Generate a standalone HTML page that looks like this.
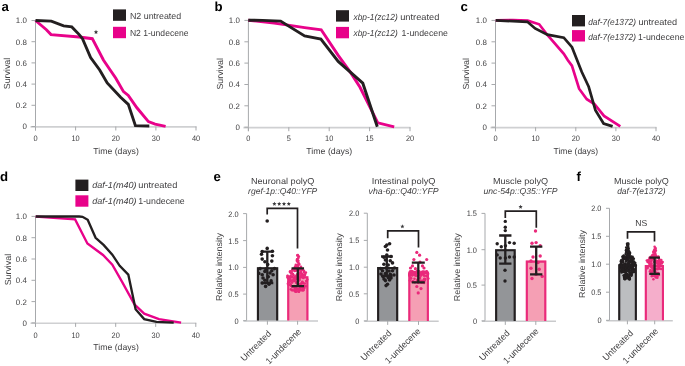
<!DOCTYPE html><html><head><meta charset="utf-8"><style>html,body{margin:0;padding:0;background:#fff;width:685px;height:366px;overflow:hidden;position:relative}svg{will-change:transform;text-rendering:geometricPrecision}</style></head><body>
<svg width="685" height="366" viewBox="0 0 685 366" style="position:absolute;left:0;top:0;font-family:'Liberation Sans',sans-serif">
<rect width="685" height="366" fill="#fff"/>
<text x="1.5" y="10.6" font-size="13.2" font-weight="bold" fill="#000">a</text>
<line x1="35.5" y1="20.5" x2="35.5" y2="130.5" stroke="#a7a9ac" stroke-width="1"/>
<line x1="30.5" y1="126.9" x2="196.5" y2="126.9" stroke="#cfd0d2" stroke-width="1.6"/>
<line x1="31.5" y1="126.5" x2="35.5" y2="126.5" stroke="#a7a9ac" stroke-width="1"/>
<text x="26.9" y="129.4" font-size="7.9" text-anchor="end" fill="#414042" textLength="4.40" lengthAdjust="spacingAndGlyphs">0</text>
<line x1="31.5" y1="105.3" x2="35.5" y2="105.3" stroke="#a7a9ac" stroke-width="1"/>
<text x="26.9" y="108.2" font-size="7.9" text-anchor="end" fill="#414042" textLength="11.01" lengthAdjust="spacingAndGlyphs">0.2</text>
<line x1="31.5" y1="84.1" x2="35.5" y2="84.1" stroke="#a7a9ac" stroke-width="1"/>
<text x="26.9" y="87.0" font-size="7.9" text-anchor="end" fill="#414042" textLength="11.01" lengthAdjust="spacingAndGlyphs">0.4</text>
<line x1="31.5" y1="62.9" x2="35.5" y2="62.9" stroke="#a7a9ac" stroke-width="1"/>
<text x="26.9" y="65.8" font-size="7.9" text-anchor="end" fill="#414042" textLength="11.01" lengthAdjust="spacingAndGlyphs">0.6</text>
<line x1="31.5" y1="41.7" x2="35.5" y2="41.7" stroke="#a7a9ac" stroke-width="1"/>
<text x="26.9" y="44.6" font-size="7.9" text-anchor="end" fill="#414042" textLength="11.01" lengthAdjust="spacingAndGlyphs">0.8</text>
<line x1="31.5" y1="20.5" x2="35.5" y2="20.5" stroke="#a7a9ac" stroke-width="1"/>
<text x="26.9" y="23.4" font-size="7.9" text-anchor="end" fill="#414042" textLength="11.01" lengthAdjust="spacingAndGlyphs">1.0</text>
<line x1="35.5" y1="126.5" x2="35.5" y2="130.5" stroke="#a7a9ac" stroke-width="1"/>
<text x="35.5" y="140.9" font-size="7.9" text-anchor="middle" fill="#414042" textLength="4.11" lengthAdjust="spacingAndGlyphs">0</text>
<line x1="75.6" y1="126.5" x2="75.6" y2="130.5" stroke="#a7a9ac" stroke-width="1"/>
<text x="75.6" y="140.9" font-size="7.9" text-anchor="middle" fill="#414042" textLength="8.23" lengthAdjust="spacingAndGlyphs">10</text>
<line x1="115.8" y1="126.5" x2="115.8" y2="130.5" stroke="#a7a9ac" stroke-width="1"/>
<text x="115.8" y="140.9" font-size="7.9" text-anchor="middle" fill="#414042" textLength="8.23" lengthAdjust="spacingAndGlyphs">20</text>
<line x1="155.9" y1="126.5" x2="155.9" y2="130.5" stroke="#a7a9ac" stroke-width="1"/>
<text x="155.9" y="140.9" font-size="7.9" text-anchor="middle" fill="#414042" textLength="8.23" lengthAdjust="spacingAndGlyphs">30</text>
<line x1="196.0" y1="126.5" x2="196.0" y2="130.5" stroke="#a7a9ac" stroke-width="1"/>
<text x="196.0" y="140.9" font-size="7.9" text-anchor="middle" fill="#414042" textLength="8.23" lengthAdjust="spacingAndGlyphs">40</text>
<text x="0" y="0" font-size="8.8" text-anchor="middle" fill="#414042" transform="translate(10.4,73.5) rotate(-90)" textLength="31.5" lengthAdjust="spacingAndGlyphs">Survival</text>
<text x="93.3" y="154.0" font-size="8.6" text-anchor="start" fill="#414042" textLength="45.5" lengthAdjust="spacingAndGlyphs">Time (days)</text>
<polyline points="35.5,20.5 46.4,29.7 51.0,34.6 79.2,37.0 92.3,38.7 103.4,60.0 109.5,69.0 115.8,78.2 123.5,91.6 128.3,95.4 136.9,107.8 148.4,121.6 155.1,124.1 165.6,126.4" fill="none" stroke="#e8028a" stroke-width="2.9" stroke-linejoin="miter" stroke-miterlimit="3"/>
<polyline points="35.5,20.5 51.3,21.1 63.6,25.9 71.8,26.9 79.2,34.6 82.5,38.7 90.6,57.5 99.7,70.0 107.2,83.0 120.6,97.3 128.3,104.4 135.4,125.6 149.3,126.0" fill="none" stroke="#231f20" stroke-width="2.9" stroke-linejoin="miter" stroke-miterlimit="3"/>
<polygon points="96.00,29.80 96.61,31.26 98.19,31.39 96.98,32.42 97.35,33.96 96.00,33.13 94.65,33.96 95.02,32.42 93.81,31.39 95.39,31.26" fill="#3a3a3c"/>
<rect x="113" y="9.4" width="13" height="11.4" fill="#231f20"/>
<text x="129.9" y="18.9" font-size="8.8" fill="#414042" textLength="51.3" lengthAdjust="spacingAndGlyphs">N2 untreated</text>
<rect x="113" y="26.8" width="13" height="11.4" fill="#e8028a"/>
<text x="129.9" y="36.3" font-size="8.8" fill="#414042" textLength="58.6" lengthAdjust="spacingAndGlyphs">N2 1-undecene</text>
<text x="214.5" y="10.6" font-size="13.2" font-weight="bold" fill="#000">b</text>
<line x1="248.4" y1="20.4" x2="248.4" y2="131.2" stroke="#a7a9ac" stroke-width="1"/>
<line x1="243.4" y1="127.60000000000001" x2="410.5" y2="127.60000000000001" stroke="#cfd0d2" stroke-width="1.6"/>
<line x1="244.4" y1="127.2" x2="248.4" y2="127.2" stroke="#a7a9ac" stroke-width="1"/>
<text x="239.8" y="130.1" font-size="7.9" text-anchor="end" fill="#414042" textLength="4.40" lengthAdjust="spacingAndGlyphs">0</text>
<line x1="244.4" y1="105.8" x2="248.4" y2="105.8" stroke="#a7a9ac" stroke-width="1"/>
<text x="239.8" y="108.7" font-size="7.9" text-anchor="end" fill="#414042" textLength="11.01" lengthAdjust="spacingAndGlyphs">0.2</text>
<line x1="244.4" y1="84.5" x2="248.4" y2="84.5" stroke="#a7a9ac" stroke-width="1"/>
<text x="239.8" y="87.4" font-size="7.9" text-anchor="end" fill="#414042" textLength="11.01" lengthAdjust="spacingAndGlyphs">0.4</text>
<line x1="244.4" y1="63.1" x2="248.4" y2="63.1" stroke="#a7a9ac" stroke-width="1"/>
<text x="239.8" y="66.0" font-size="7.9" text-anchor="end" fill="#414042" textLength="11.01" lengthAdjust="spacingAndGlyphs">0.6</text>
<line x1="244.4" y1="41.8" x2="248.4" y2="41.8" stroke="#a7a9ac" stroke-width="1"/>
<text x="239.8" y="44.7" font-size="7.9" text-anchor="end" fill="#414042" textLength="11.01" lengthAdjust="spacingAndGlyphs">0.8</text>
<line x1="244.4" y1="20.4" x2="248.4" y2="20.4" stroke="#a7a9ac" stroke-width="1"/>
<text x="239.8" y="23.3" font-size="7.9" text-anchor="end" fill="#414042" textLength="11.01" lengthAdjust="spacingAndGlyphs">1.0</text>
<line x1="248.4" y1="127.2" x2="248.4" y2="131.2" stroke="#a7a9ac" stroke-width="1"/>
<text x="248.4" y="141.2" font-size="7.9" text-anchor="middle" fill="#414042" textLength="4.11" lengthAdjust="spacingAndGlyphs">0</text>
<line x1="288.8" y1="127.2" x2="288.8" y2="131.2" stroke="#a7a9ac" stroke-width="1"/>
<text x="288.8" y="141.2" font-size="7.9" text-anchor="middle" fill="#414042" textLength="4.11" lengthAdjust="spacingAndGlyphs">5</text>
<line x1="329.2" y1="127.2" x2="329.2" y2="131.2" stroke="#a7a9ac" stroke-width="1"/>
<text x="329.2" y="141.2" font-size="7.9" text-anchor="middle" fill="#414042" textLength="8.23" lengthAdjust="spacingAndGlyphs">10</text>
<line x1="369.6" y1="127.2" x2="369.6" y2="131.2" stroke="#a7a9ac" stroke-width="1"/>
<text x="369.6" y="141.2" font-size="7.9" text-anchor="middle" fill="#414042" textLength="8.23" lengthAdjust="spacingAndGlyphs">15</text>
<line x1="410.0" y1="127.2" x2="410.0" y2="131.2" stroke="#a7a9ac" stroke-width="1"/>
<text x="410.0" y="141.2" font-size="7.9" text-anchor="middle" fill="#414042" textLength="8.23" lengthAdjust="spacingAndGlyphs">20</text>
<text x="0" y="0" font-size="8.8" text-anchor="middle" fill="#414042" transform="translate(223.4,73.8) rotate(-90)" textLength="31.5" lengthAdjust="spacingAndGlyphs">Survival</text>
<text x="306.3" y="154.1" font-size="8.6" text-anchor="start" fill="#414042" textLength="46" lengthAdjust="spacingAndGlyphs">Time (days)</text>
<polyline points="248.3,20.2 274.2,23.1 284.7,24.6 304.6,27.6 321.2,29.8 338.2,55.3 350.5,72.4 360.0,87.3 377.8,122.8 394.2,126.8" fill="none" stroke="#e8028a" stroke-width="2.9" stroke-linejoin="miter" stroke-miterlimit="3"/>
<polyline points="248.3,20.2 262.5,20.4 280.6,21.1 304.6,36.0 320.9,39.1 338.2,61.4 362.8,83.2 377.3,126.8" fill="none" stroke="#231f20" stroke-width="2.9" stroke-linejoin="miter" stroke-miterlimit="3"/>
<rect x="336" y="10.2" width="13" height="11.4" fill="#231f20"/>
<text x="353.5" y="19.7" font-size="8.8" fill="#414042" font-style="italic" textLength="44.2" lengthAdjust="spacingAndGlyphs">xbp-1(zc12)</text>
<text x="400.2" y="19.7" font-size="8.8" fill="#414042" textLength="39.2" lengthAdjust="spacingAndGlyphs">untreated</text>
<rect x="336" y="26.9" width="13" height="11.4" fill="#e8028a"/>
<text x="353.5" y="36.4" font-size="8.8" fill="#414042" font-style="italic" textLength="44.2" lengthAdjust="spacingAndGlyphs">xbp-1(zc12)</text>
<text x="401.6" y="36.4" font-size="8.8" fill="#414042" textLength="46.3" lengthAdjust="spacingAndGlyphs">1-undecene</text>
<text x="460.5" y="10.6" font-size="13.2" font-weight="bold" fill="#000">c</text>
<line x1="495.5" y1="20.4" x2="495.5" y2="131.2" stroke="#a7a9ac" stroke-width="1"/>
<line x1="490.5" y1="127.60000000000001" x2="656.5" y2="127.60000000000001" stroke="#cfd0d2" stroke-width="1.6"/>
<line x1="491.5" y1="127.2" x2="495.5" y2="127.2" stroke="#a7a9ac" stroke-width="1"/>
<text x="486.9" y="130.1" font-size="7.9" text-anchor="end" fill="#414042" textLength="4.40" lengthAdjust="spacingAndGlyphs">0</text>
<line x1="491.5" y1="105.8" x2="495.5" y2="105.8" stroke="#a7a9ac" stroke-width="1"/>
<text x="486.9" y="108.7" font-size="7.9" text-anchor="end" fill="#414042" textLength="11.01" lengthAdjust="spacingAndGlyphs">0.2</text>
<line x1="491.5" y1="84.5" x2="495.5" y2="84.5" stroke="#a7a9ac" stroke-width="1"/>
<text x="486.9" y="87.4" font-size="7.9" text-anchor="end" fill="#414042" textLength="11.01" lengthAdjust="spacingAndGlyphs">0.4</text>
<line x1="491.5" y1="63.1" x2="495.5" y2="63.1" stroke="#a7a9ac" stroke-width="1"/>
<text x="486.9" y="66.0" font-size="7.9" text-anchor="end" fill="#414042" textLength="11.01" lengthAdjust="spacingAndGlyphs">0.6</text>
<line x1="491.5" y1="41.8" x2="495.5" y2="41.8" stroke="#a7a9ac" stroke-width="1"/>
<text x="486.9" y="44.7" font-size="7.9" text-anchor="end" fill="#414042" textLength="11.01" lengthAdjust="spacingAndGlyphs">0.8</text>
<line x1="491.5" y1="20.4" x2="495.5" y2="20.4" stroke="#a7a9ac" stroke-width="1"/>
<text x="486.9" y="23.3" font-size="7.9" text-anchor="end" fill="#414042" textLength="11.01" lengthAdjust="spacingAndGlyphs">1.0</text>
<line x1="495.5" y1="127.2" x2="495.5" y2="131.2" stroke="#a7a9ac" stroke-width="1"/>
<text x="495.5" y="141.2" font-size="7.9" text-anchor="middle" fill="#414042" textLength="4.11" lengthAdjust="spacingAndGlyphs">0</text>
<line x1="535.6" y1="127.2" x2="535.6" y2="131.2" stroke="#a7a9ac" stroke-width="1"/>
<text x="535.6" y="141.2" font-size="7.9" text-anchor="middle" fill="#414042" textLength="8.23" lengthAdjust="spacingAndGlyphs">10</text>
<line x1="575.8" y1="127.2" x2="575.8" y2="131.2" stroke="#a7a9ac" stroke-width="1"/>
<text x="575.8" y="141.2" font-size="7.9" text-anchor="middle" fill="#414042" textLength="8.23" lengthAdjust="spacingAndGlyphs">20</text>
<line x1="615.9" y1="127.2" x2="615.9" y2="131.2" stroke="#a7a9ac" stroke-width="1"/>
<text x="615.9" y="141.2" font-size="7.9" text-anchor="middle" fill="#414042" textLength="8.23" lengthAdjust="spacingAndGlyphs">30</text>
<line x1="656.0" y1="127.2" x2="656.0" y2="131.2" stroke="#a7a9ac" stroke-width="1"/>
<text x="656.0" y="141.2" font-size="7.9" text-anchor="middle" fill="#414042" textLength="8.23" lengthAdjust="spacingAndGlyphs">40</text>
<text x="0" y="0" font-size="8.8" text-anchor="middle" fill="#414042" transform="translate(468.8,73.8) rotate(-90)" textLength="31.5" lengthAdjust="spacingAndGlyphs">Survival</text>
<text x="553.6" y="154.1" font-size="8.6" text-anchor="start" fill="#414042" textLength="44.6" lengthAdjust="spacingAndGlyphs">Time (days)</text>
<polyline points="495.7,20.4 513.0,20.0 527.7,20.6 539.2,24.3 547.4,35.0 563.8,53.8 567.7,60.0 571.9,65.7 579.1,88.7 586.8,99.2 594.4,104.0 604.0,115.9 620.3,126.4" fill="none" stroke="#e8028a" stroke-width="2.7" stroke-linejoin="miter" stroke-miterlimit="3"/>
<polyline points="495.7,20.4 527.4,21.8 535.1,28.4 547.4,34.6 563.8,37.7 572.0,47.2 581.8,72.0 588.7,86.8 595.4,110.1 603.6,123.5 612.6,126.4" fill="none" stroke="#231f20" stroke-width="2.7" stroke-linejoin="miter" stroke-miterlimit="3"/>
<rect x="572" y="15" width="13" height="11.4" fill="#231f20"/>
<text x="588.2" y="24.5" font-size="8.8" fill="#414042" font-style="italic" textLength="47.8" lengthAdjust="spacingAndGlyphs">daf-7(e1372)</text>
<text x="638.4" y="24.5" font-size="8.8" fill="#414042" textLength="38.7" lengthAdjust="spacingAndGlyphs">untreated</text>
<rect x="572" y="30.1" width="13" height="11.4" fill="#e8028a"/>
<text x="588.2" y="39.6" font-size="8.8" fill="#414042" font-style="italic" textLength="47.8" lengthAdjust="spacingAndGlyphs">daf-7(e1372)</text>
<text x="638.1" y="39.6" font-size="8.8" fill="#414042" textLength="46.3" lengthAdjust="spacingAndGlyphs">1-undecene</text>
<text x="0" y="181" font-size="13.2" font-weight="bold" fill="#000">d</text>
<line x1="35.5" y1="216.4" x2="35.5" y2="326.9" stroke="#a7a9ac" stroke-width="1"/>
<line x1="30.5" y1="323.29999999999995" x2="196.3" y2="323.29999999999995" stroke="#cfd0d2" stroke-width="1.6"/>
<line x1="31.5" y1="322.9" x2="35.5" y2="322.9" stroke="#a7a9ac" stroke-width="1"/>
<text x="26.9" y="325.8" font-size="7.9" text-anchor="end" fill="#414042" textLength="4.40" lengthAdjust="spacingAndGlyphs">0</text>
<line x1="31.5" y1="301.6" x2="35.5" y2="301.6" stroke="#a7a9ac" stroke-width="1"/>
<text x="26.9" y="304.5" font-size="7.9" text-anchor="end" fill="#414042" textLength="11.01" lengthAdjust="spacingAndGlyphs">0.2</text>
<line x1="31.5" y1="280.3" x2="35.5" y2="280.3" stroke="#a7a9ac" stroke-width="1"/>
<text x="26.9" y="283.2" font-size="7.9" text-anchor="end" fill="#414042" textLength="11.01" lengthAdjust="spacingAndGlyphs">0.4</text>
<line x1="31.5" y1="259.0" x2="35.5" y2="259.0" stroke="#a7a9ac" stroke-width="1"/>
<text x="26.9" y="261.9" font-size="7.9" text-anchor="end" fill="#414042" textLength="11.01" lengthAdjust="spacingAndGlyphs">0.6</text>
<line x1="31.5" y1="237.7" x2="35.5" y2="237.7" stroke="#a7a9ac" stroke-width="1"/>
<text x="26.9" y="240.6" font-size="7.9" text-anchor="end" fill="#414042" textLength="11.01" lengthAdjust="spacingAndGlyphs">0.8</text>
<line x1="31.5" y1="216.4" x2="35.5" y2="216.4" stroke="#a7a9ac" stroke-width="1"/>
<text x="26.9" y="219.3" font-size="7.9" text-anchor="end" fill="#414042" textLength="11.01" lengthAdjust="spacingAndGlyphs">1.0</text>
<line x1="35.5" y1="322.9" x2="35.5" y2="326.9" stroke="#a7a9ac" stroke-width="1"/>
<text x="35.5" y="337.9" font-size="7.9" text-anchor="middle" fill="#414042" textLength="4.11" lengthAdjust="spacingAndGlyphs">0</text>
<line x1="75.6" y1="322.9" x2="75.6" y2="326.9" stroke="#a7a9ac" stroke-width="1"/>
<text x="75.6" y="337.9" font-size="7.9" text-anchor="middle" fill="#414042" textLength="8.23" lengthAdjust="spacingAndGlyphs">10</text>
<line x1="115.7" y1="322.9" x2="115.7" y2="326.9" stroke="#a7a9ac" stroke-width="1"/>
<text x="115.7" y="337.9" font-size="7.9" text-anchor="middle" fill="#414042" textLength="8.23" lengthAdjust="spacingAndGlyphs">20</text>
<line x1="155.7" y1="322.9" x2="155.7" y2="326.9" stroke="#a7a9ac" stroke-width="1"/>
<text x="155.7" y="337.9" font-size="7.9" text-anchor="middle" fill="#414042" textLength="8.23" lengthAdjust="spacingAndGlyphs">30</text>
<line x1="195.8" y1="322.9" x2="195.8" y2="326.9" stroke="#a7a9ac" stroke-width="1"/>
<text x="195.8" y="337.9" font-size="7.9" text-anchor="middle" fill="#414042" textLength="8.23" lengthAdjust="spacingAndGlyphs">40</text>
<text x="0" y="0" font-size="8.8" text-anchor="middle" fill="#414042" transform="translate(10.6,269.6) rotate(-90)" textLength="31.5" lengthAdjust="spacingAndGlyphs">Survival</text>
<text x="93.3" y="349.79999999999995" font-size="8.6" text-anchor="start" fill="#414042" textLength="45.5" lengthAdjust="spacingAndGlyphs">Time (days)</text>
<polyline points="35.7,216.5 75.1,219.4 87.4,243.5 103.0,255.0 112.3,264.6 122.1,281.8 134.4,304.4 144.2,313.7 159.0,319.1 181.1,322.6" fill="none" stroke="#e8028a" stroke-width="2.35" stroke-linejoin="miter" stroke-miterlimit="3"/>
<polyline points="35.7,216.5 79.2,216.5 82.5,216.8 87.7,219.8 95.6,237.8 103.8,245.2 112.3,254.7 119.7,265.8 128.3,274.6 135.6,309.3 144.2,319.1 156.5,321.8 173.7,322.6" fill="none" stroke="#231f20" stroke-width="2.35" stroke-linejoin="miter" stroke-miterlimit="3"/>
<rect x="75.4" y="179.6" width="13" height="11.4" fill="#231f20"/>
<text x="92.3" y="188.4" font-size="8.8" fill="#414042" font-style="italic" textLength="44.2" lengthAdjust="spacingAndGlyphs">daf-1(m40)</text>
<text x="138.3" y="188.4" font-size="8.8" fill="#414042" textLength="39" lengthAdjust="spacingAndGlyphs">untreated</text>
<rect x="75.4" y="195.3" width="13" height="11.4" fill="#e8028a"/>
<text x="92.3" y="204.1" font-size="8.8" fill="#414042" font-style="italic" textLength="44.2" lengthAdjust="spacingAndGlyphs">daf-1(m40)</text>
<text x="138.3" y="204.1" font-size="8.8" fill="#414042" textLength="46.4" lengthAdjust="spacingAndGlyphs">1-undecene</text>
<text x="213.5" y="180.8" font-size="13.2" font-weight="bold" fill="#000">e</text>
<text x="282.7" y="183.9" font-size="8.6" text-anchor="middle" fill="#414042" textLength="63.6" lengthAdjust="spacingAndGlyphs">Neuronal polyQ</text>
<text x="282.7" y="193.6" font-size="8.6" font-style="italic" text-anchor="middle" fill="#414042" textLength="69.2" lengthAdjust="spacingAndGlyphs">rgef-1p::Q40::YFP</text>
<line x1="246.6" y1="213.6" x2="246.6" y2="320.7" stroke="#a7a9ac" stroke-width="1"/>
<line x1="243.6" y1="321.09999999999997" x2="318" y2="321.09999999999997" stroke="#c9cacc" stroke-width="1.5"/>
<line x1="243.1" y1="320.7" x2="246.6" y2="320.7" stroke="#a7a9ac" stroke-width="1"/>
<text x="238.6" y="323.6" font-size="7.9" text-anchor="end" fill="#414042" textLength="4.11" lengthAdjust="spacingAndGlyphs">0</text>
<line x1="243.1" y1="294.1" x2="246.6" y2="294.1" stroke="#a7a9ac" stroke-width="1"/>
<text x="238.6" y="297.0" font-size="7.9" text-anchor="end" fill="#414042" textLength="10.29" lengthAdjust="spacingAndGlyphs">0.5</text>
<line x1="243.1" y1="267.4" x2="246.6" y2="267.4" stroke="#a7a9ac" stroke-width="1"/>
<text x="238.6" y="270.3" font-size="7.9" text-anchor="end" fill="#414042" textLength="10.29" lengthAdjust="spacingAndGlyphs">1.0</text>
<line x1="243.1" y1="240.6" x2="246.6" y2="240.6" stroke="#a7a9ac" stroke-width="1"/>
<text x="238.6" y="243.5" font-size="7.9" text-anchor="end" fill="#414042" textLength="10.29" lengthAdjust="spacingAndGlyphs">1.5</text>
<line x1="243.1" y1="213.6" x2="246.6" y2="213.6" stroke="#a7a9ac" stroke-width="1"/>
<text x="238.6" y="216.5" font-size="7.9" text-anchor="end" fill="#414042" textLength="10.29" lengthAdjust="spacingAndGlyphs">2.0</text>
<line x1="267.4" y1="320.7" x2="267.4" y2="324.7" stroke="#a7a9ac" stroke-width="1"/>
<line x1="297.6" y1="320.7" x2="297.6" y2="324.7" stroke="#a7a9ac" stroke-width="1"/>
<text x="0" y="0" font-size="8.6" text-anchor="middle" fill="#414042" transform="translate(222.0,267) rotate(-90)" textLength="68" lengthAdjust="spacingAndGlyphs">Relative intensity</text>
<text x="0" y="0" font-size="9" text-anchor="end" fill="#414042" transform="translate(271.8,334.2) rotate(-45)" textLength="39.1" lengthAdjust="spacingAndGlyphs">Untreated</text>
<text x="0" y="0" font-size="9" text-anchor="end" fill="#414042" transform="translate(301.8,332.2) rotate(-45)" textLength="46.2" lengthAdjust="spacingAndGlyphs">1-undecene</text>
<rect x="256.90" y="267.20" width="21.30" height="53.30" fill="#939598"/>
<path d="M257.95,320.5V268.25H277.15V320.5" fill="none" stroke="#231f20" stroke-width="2.1"/>
<rect x="287.20" y="276.30" width="21.20" height="44.20" fill="#f59fb4"/>
<path d="M288.25,320.5V277.35H307.35V320.5" fill="none" stroke="#ea2a7b" stroke-width="2.1"/>
<circle cx="267.2" cy="221.0" r="1.8" fill="#231f20"/>
<circle cx="267.2" cy="248.4" r="1.8" fill="#231f20"/>
<circle cx="262.2" cy="251.6" r="1.8" fill="#231f20"/>
<circle cx="272.4" cy="251.3" r="1.8" fill="#231f20"/>
<circle cx="261.5" cy="254.3" r="1.8" fill="#231f20"/>
<circle cx="272.4" cy="255.7" r="1.8" fill="#231f20"/>
<circle cx="262.2" cy="259.1" r="1.8" fill="#231f20"/>
<circle cx="271.8" cy="261.1" r="1.8" fill="#231f20"/>
<circle cx="264.9" cy="261.8" r="1.8" fill="#231f20"/>
<circle cx="267.7" cy="264.5" r="1.8" fill="#231f20"/>
<circle cx="260.1" cy="268.6" r="1.8" fill="#231f20"/>
<circle cx="264.9" cy="271.4" r="1.8" fill="#231f20"/>
<circle cx="271.8" cy="270.7" r="1.8" fill="#231f20"/>
<circle cx="262.2" cy="274.8" r="1.8" fill="#231f20"/>
<circle cx="273.1" cy="274.8" r="1.8" fill="#231f20"/>
<circle cx="268.3" cy="276.8" r="1.8" fill="#231f20"/>
<circle cx="264.9" cy="280.3" r="1.8" fill="#231f20"/>
<circle cx="271.1" cy="280.9" r="1.8" fill="#231f20"/>
<circle cx="262.2" cy="283.0" r="1.8" fill="#231f20"/>
<circle cx="265.6" cy="286.4" r="1.8" fill="#231f20"/>
<circle cx="269.0" cy="284.3" r="1.8" fill="#231f20"/>
<circle cx="258.8" cy="273.4" r="1.8" fill="#231f20"/>
<circle cx="274.5" cy="268.6" r="1.8" fill="#231f20"/>
<circle cx="266.0" cy="269.0" r="1.8" fill="#231f20"/>
<circle cx="270.0" cy="273.0" r="1.8" fill="#231f20"/>
<circle cx="263.0" cy="278.0" r="1.8" fill="#231f20"/>
<circle cx="297.8" cy="255.2" r="1.35" fill="#ea2a7b"/>
<circle cx="298.8" cy="256.6" r="1.35" fill="#ea2a7b"/>
<circle cx="298.3" cy="258.0" r="1.35" fill="#ea2a7b"/>
<circle cx="297.1" cy="259.4" r="1.35" fill="#ea2a7b"/>
<circle cx="296.9" cy="260.8" r="1.35" fill="#ea2a7b"/>
<circle cx="298.0" cy="262.2" r="1.35" fill="#ea2a7b"/>
<circle cx="298.8" cy="263.6" r="1.35" fill="#ea2a7b"/>
<circle cx="298.1" cy="265.0" r="1.35" fill="#ea2a7b"/>
<circle cx="297.0" cy="266.4" r="1.35" fill="#ea2a7b"/>
<circle cx="303.3" cy="283.5" r="1.3" fill="#ea2a7b"/>
<circle cx="302.8" cy="290.4" r="1.3" fill="#ea2a7b"/>
<circle cx="299.3" cy="264.4" r="1.3" fill="#ea2a7b"/>
<circle cx="290.2" cy="285.0" r="1.3" fill="#ea2a7b"/>
<circle cx="298.5" cy="278.8" r="1.3" fill="#ea2a7b"/>
<circle cx="291.8" cy="276.5" r="1.3" fill="#ea2a7b"/>
<circle cx="302.9" cy="276.0" r="1.3" fill="#ea2a7b"/>
<circle cx="292.4" cy="270.6" r="1.3" fill="#ea2a7b"/>
<circle cx="287.5" cy="277.6" r="1.3" fill="#ea2a7b"/>
<circle cx="292.7" cy="287.3" r="1.3" fill="#ea2a7b"/>
<circle cx="295.3" cy="291.2" r="1.3" fill="#ea2a7b"/>
<circle cx="300.1" cy="289.2" r="1.3" fill="#ea2a7b"/>
<circle cx="301.4" cy="276.1" r="1.3" fill="#ea2a7b"/>
<circle cx="295.4" cy="291.4" r="1.3" fill="#ea2a7b"/>
<circle cx="291.6" cy="272.6" r="1.3" fill="#ea2a7b"/>
<circle cx="298.5" cy="267.7" r="1.3" fill="#ea2a7b"/>
<circle cx="297.3" cy="260.4" r="1.3" fill="#ea2a7b"/>
<circle cx="297.2" cy="275.6" r="1.3" fill="#ea2a7b"/>
<circle cx="301.4" cy="274.0" r="1.3" fill="#ea2a7b"/>
<circle cx="289.9" cy="271.7" r="1.3" fill="#ea2a7b"/>
<circle cx="288.3" cy="284.5" r="1.3" fill="#ea2a7b"/>
<circle cx="299.2" cy="279.9" r="1.3" fill="#ea2a7b"/>
<circle cx="297.3" cy="255.4" r="1.3" fill="#ea2a7b"/>
<circle cx="302.0" cy="287.2" r="1.3" fill="#ea2a7b"/>
<circle cx="296.0" cy="291.7" r="1.3" fill="#ea2a7b"/>
<circle cx="302.7" cy="274.2" r="1.3" fill="#ea2a7b"/>
<circle cx="301.7" cy="270.3" r="1.3" fill="#ea2a7b"/>
<circle cx="305.9" cy="286.2" r="1.3" fill="#ea2a7b"/>
<circle cx="298.7" cy="268.0" r="1.3" fill="#ea2a7b"/>
<circle cx="304.4" cy="288.0" r="1.3" fill="#ea2a7b"/>
<circle cx="293.9" cy="279.4" r="1.3" fill="#ea2a7b"/>
<circle cx="295.2" cy="266.5" r="1.3" fill="#ea2a7b"/>
<circle cx="291.2" cy="286.0" r="1.3" fill="#ea2a7b"/>
<circle cx="297.8" cy="266.0" r="1.3" fill="#ea2a7b"/>
<circle cx="299.5" cy="278.7" r="1.3" fill="#ea2a7b"/>
<circle cx="296.4" cy="288.7" r="1.3" fill="#ea2a7b"/>
<circle cx="290.3" cy="271.3" r="1.3" fill="#ea2a7b"/>
<circle cx="290.5" cy="284.4" r="1.3" fill="#ea2a7b"/>
<circle cx="300.1" cy="285.5" r="1.3" fill="#ea2a7b"/>
<circle cx="296.3" cy="277.4" r="1.3" fill="#ea2a7b"/>
<circle cx="294.6" cy="270.9" r="1.3" fill="#ea2a7b"/>
<circle cx="304.3" cy="286.0" r="1.3" fill="#ea2a7b"/>
<circle cx="297.4" cy="288.7" r="1.3" fill="#ea2a7b"/>
<circle cx="293.5" cy="281.0" r="1.3" fill="#ea2a7b"/>
<circle cx="295.1" cy="277.8" r="1.3" fill="#ea2a7b"/>
<circle cx="298.9" cy="291.8" r="1.3" fill="#ea2a7b"/>
<circle cx="289.4" cy="279.6" r="1.3" fill="#ea2a7b"/>
<circle cx="304.8" cy="275.4" r="1.3" fill="#ea2a7b"/>
<circle cx="303.0" cy="275.4" r="1.3" fill="#ea2a7b"/>
<circle cx="302.7" cy="282.8" r="1.3" fill="#ea2a7b"/>
<circle cx="293.4" cy="275.0" r="1.3" fill="#ea2a7b"/>
<circle cx="301.3" cy="283.8" r="1.3" fill="#ea2a7b"/>
<circle cx="300.6" cy="276.1" r="1.3" fill="#ea2a7b"/>
<circle cx="298.6" cy="276.5" r="1.3" fill="#ea2a7b"/>
<circle cx="296.9" cy="274.9" r="1.3" fill="#ea2a7b"/>
<circle cx="301.5" cy="289.9" r="1.3" fill="#ea2a7b"/>
<circle cx="302.1" cy="274.8" r="1.3" fill="#ea2a7b"/>
<circle cx="303.0" cy="288.1" r="1.3" fill="#ea2a7b"/>
<circle cx="303.7" cy="290.1" r="1.3" fill="#ea2a7b"/>
<circle cx="298.0" cy="289.1" r="1.3" fill="#ea2a7b"/>
<circle cx="304.0" cy="270.9" r="1.3" fill="#ea2a7b"/>
<circle cx="301.9" cy="283.0" r="1.3" fill="#ea2a7b"/>
<circle cx="303.3" cy="278.0" r="1.3" fill="#ea2a7b"/>
<circle cx="296.1" cy="282.8" r="1.3" fill="#ea2a7b"/>
<circle cx="300.2" cy="283.8" r="1.3" fill="#ea2a7b"/>
<circle cx="290.7" cy="276.7" r="1.3" fill="#ea2a7b"/>
<circle cx="292.1" cy="282.6" r="1.3" fill="#ea2a7b"/>
<circle cx="288.7" cy="282.5" r="1.3" fill="#ea2a7b"/>
<circle cx="288.6" cy="278.6" r="1.3" fill="#ea2a7b"/>
<circle cx="294.6" cy="267.8" r="1.3" fill="#ea2a7b"/>
<circle cx="297.4" cy="266.2" r="1.3" fill="#ea2a7b"/>
<circle cx="299.3" cy="274.6" r="1.3" fill="#ea2a7b"/>
<circle cx="287.6" cy="276.0" r="1.3" fill="#ea2a7b"/>
<circle cx="295.8" cy="279.1" r="1.3" fill="#ea2a7b"/>
<circle cx="295.8" cy="270.8" r="1.3" fill="#ea2a7b"/>
<circle cx="295.8" cy="264.8" r="1.3" fill="#ea2a7b"/>
<circle cx="299.2" cy="279.7" r="1.3" fill="#ea2a7b"/>
<circle cx="296.7" cy="290.9" r="1.3" fill="#ea2a7b"/>
<circle cx="295.9" cy="289.9" r="1.3" fill="#ea2a7b"/>
<circle cx="298.4" cy="269.5" r="1.3" fill="#ea2a7b"/>
<circle cx="298.7" cy="291.8" r="1.3" fill="#ea2a7b"/>
<circle cx="287.6" cy="275.9" r="1.3" fill="#ea2a7b"/>
<circle cx="299.0" cy="269.3" r="1.3" fill="#ea2a7b"/>
<circle cx="302.5" cy="269.7" r="1.3" fill="#ea2a7b"/>
<circle cx="292.6" cy="273.8" r="1.3" fill="#ea2a7b"/>
<circle cx="295.2" cy="276.3" r="1.3" fill="#ea2a7b"/>
<circle cx="298.6" cy="291.5" r="1.3" fill="#ea2a7b"/>
<circle cx="297.5" cy="276.3" r="1.3" fill="#ea2a7b"/>
<circle cx="307.3" cy="279.5" r="1.3" fill="#ea2a7b"/>
<circle cx="297.1" cy="279.1" r="1.3" fill="#ea2a7b"/>
<circle cx="296.9" cy="269.6" r="1.3" fill="#ea2a7b"/>
<circle cx="304.0" cy="275.4" r="1.3" fill="#ea2a7b"/>
<circle cx="297.3" cy="259.3" r="1.3" fill="#ea2a7b"/>
<circle cx="294.6" cy="290.7" r="1.3" fill="#ea2a7b"/>
<circle cx="305.9" cy="272.5" r="1.3" fill="#ea2a7b"/>
<circle cx="297.1" cy="274.6" r="1.3" fill="#ea2a7b"/>
<circle cx="302.4" cy="282.2" r="1.3" fill="#ea2a7b"/>
<circle cx="294.8" cy="270.4" r="1.3" fill="#ea2a7b"/>
<circle cx="293.6" cy="279.6" r="1.3" fill="#ea2a7b"/>
<circle cx="294.9" cy="280.9" r="1.3" fill="#ea2a7b"/>
<circle cx="288.5" cy="282.1" r="1.3" fill="#ea2a7b"/>
<circle cx="305.2" cy="273.9" r="1.3" fill="#ea2a7b"/>
<circle cx="290.8" cy="289.3" r="1.3" fill="#ea2a7b"/>
<circle cx="299.1" cy="280.5" r="1.3" fill="#ea2a7b"/>
<circle cx="297.2" cy="282.5" r="1.3" fill="#ea2a7b"/>
<circle cx="295.9" cy="288.3" r="1.3" fill="#ea2a7b"/>
<circle cx="294.1" cy="287.2" r="1.3" fill="#ea2a7b"/>
<circle cx="303.8" cy="286.4" r="1.3" fill="#ea2a7b"/>
<circle cx="293.4" cy="280.6" r="1.3" fill="#ea2a7b"/>
<circle cx="290.8" cy="285.1" r="1.3" fill="#ea2a7b"/>
<circle cx="297.6" cy="281.7" r="1.3" fill="#ea2a7b"/>
<circle cx="299.1" cy="272.5" r="1.3" fill="#ea2a7b"/>
<circle cx="292.6" cy="286.4" r="1.3" fill="#ea2a7b"/>
<circle cx="299.5" cy="290.8" r="1.3" fill="#ea2a7b"/>
<circle cx="298.4" cy="260.8" r="1.3" fill="#ea2a7b"/>
<circle cx="291.9" cy="290.2" r="1.3" fill="#ea2a7b"/>
<circle cx="300.1" cy="287.3" r="1.3" fill="#ea2a7b"/>
<circle cx="293.0" cy="290.3" r="1.3" fill="#ea2a7b"/>
<circle cx="290.6" cy="276.0" r="1.3" fill="#ea2a7b"/>
<circle cx="290.9" cy="280.4" r="1.3" fill="#ea2a7b"/>
<circle cx="289.6" cy="276.8" r="1.3" fill="#ea2a7b"/>
<circle cx="290.2" cy="272.1" r="1.3" fill="#ea2a7b"/>
<circle cx="304.9" cy="283.5" r="1.3" fill="#ea2a7b"/>
<circle cx="295.7" cy="268.5" r="1.3" fill="#ea2a7b"/>
<circle cx="306.2" cy="281.1" r="1.3" fill="#ea2a7b"/>
<circle cx="300.9" cy="272.1" r="1.3" fill="#ea2a7b"/>
<circle cx="297.7" cy="269.7" r="1.3" fill="#ea2a7b"/>
<circle cx="299.3" cy="289.3" r="1.3" fill="#ea2a7b"/>
<circle cx="293.0" cy="274.3" r="1.3" fill="#ea2a7b"/>
<circle cx="290.4" cy="281.4" r="1.3" fill="#ea2a7b"/>
<circle cx="301.8" cy="273.5" r="1.3" fill="#ea2a7b"/>
<circle cx="299.7" cy="270.1" r="1.3" fill="#ea2a7b"/>
<circle cx="292.3" cy="269.9" r="1.3" fill="#ea2a7b"/>
<circle cx="294.4" cy="269.4" r="1.3" fill="#ea2a7b"/>
<circle cx="295.0" cy="288.9" r="1.3" fill="#ea2a7b"/>
<circle cx="302.2" cy="276.7" r="1.3" fill="#ea2a7b"/>
<circle cx="301.0" cy="266.9" r="1.3" fill="#ea2a7b"/>
<circle cx="289.9" cy="278.5" r="1.3" fill="#ea2a7b"/>
<circle cx="301.8" cy="290.0" r="1.3" fill="#ea2a7b"/>
<circle cx="295.8" cy="269.6" r="1.3" fill="#ea2a7b"/>
<circle cx="299.6" cy="273.3" r="1.3" fill="#ea2a7b"/>
<circle cx="291.1" cy="273.6" r="1.3" fill="#ea2a7b"/>
<circle cx="301.6" cy="289.9" r="1.3" fill="#ea2a7b"/>
<circle cx="297.9" cy="284.6" r="1.3" fill="#ea2a7b"/>
<circle cx="302.3" cy="281.9" r="1.3" fill="#ea2a7b"/>
<circle cx="288.1" cy="277.3" r="1.3" fill="#ea2a7b"/>
<circle cx="304.0" cy="272.0" r="1.3" fill="#ea2a7b"/>
<circle cx="287.9" cy="283.7" r="1.3" fill="#ea2a7b"/>
<circle cx="299.9" cy="284.9" r="1.3" fill="#ea2a7b"/>
<circle cx="289.7" cy="280.9" r="1.3" fill="#ea2a7b"/>
<path d="M267.3,251.6V283M261.3,251.6H273.3M261.3,283H273.3" stroke="#231f20" stroke-width="2.3" fill="none"/>
<path d="M297.8,268.4V286.2M291.55,268.4H304.05M291.55,286.2H304.05" stroke="#231f20" stroke-width="2.3" fill="none"/>
<polyline points="267.2,214.4 267.2,208.3 297.5,208.3 297.5,248.5" fill="none" stroke="#231f20" stroke-width="1.7"/>
<polygon points="274.40,201.70 274.98,203.10 276.49,203.22 275.34,204.21 275.69,205.68 274.40,204.89 273.11,205.68 273.46,204.21 272.31,203.22 273.82,203.10" fill="#3a3a3c"/>
<polygon points="279.20,201.70 279.78,203.10 281.29,203.22 280.14,204.21 280.49,205.68 279.20,204.89 277.91,205.68 278.26,204.21 277.11,203.22 278.62,203.10" fill="#3a3a3c"/>
<polygon points="284.00,201.70 284.58,203.10 286.09,203.22 284.94,204.21 285.29,205.68 284.00,204.89 282.71,205.68 283.06,204.21 281.91,203.22 283.42,203.10" fill="#3a3a3c"/>
<polygon points="288.80,201.70 289.38,203.10 290.89,203.22 289.74,204.21 290.09,205.68 288.80,204.89 287.51,205.68 287.86,204.21 286.71,203.22 288.22,203.10" fill="#3a3a3c"/>
<text x="403.6" y="183.9" font-size="8.6" text-anchor="middle" fill="#414042" textLength="63.9" lengthAdjust="spacingAndGlyphs">Intestinal polyQ</text>
<text x="403.6" y="193.6" font-size="8.6" font-style="italic" text-anchor="middle" fill="#414042" textLength="70.1" lengthAdjust="spacingAndGlyphs">vha-6p::Q40::YFP</text>
<line x1="367.3" y1="213.2" x2="367.3" y2="320.9" stroke="#a7a9ac" stroke-width="1"/>
<line x1="364.3" y1="321.29999999999995" x2="438.7" y2="321.29999999999995" stroke="#c9cacc" stroke-width="1.5"/>
<line x1="363.8" y1="320.9" x2="367.3" y2="320.9" stroke="#a7a9ac" stroke-width="1"/>
<text x="359.3" y="323.8" font-size="7.9" text-anchor="end" fill="#414042" textLength="4.11" lengthAdjust="spacingAndGlyphs">0</text>
<line x1="363.8" y1="293.8" x2="367.3" y2="293.8" stroke="#a7a9ac" stroke-width="1"/>
<text x="359.3" y="296.7" font-size="7.9" text-anchor="end" fill="#414042" textLength="10.29" lengthAdjust="spacingAndGlyphs">0.5</text>
<line x1="363.8" y1="267.2" x2="367.3" y2="267.2" stroke="#a7a9ac" stroke-width="1"/>
<text x="359.3" y="270.1" font-size="7.9" text-anchor="end" fill="#414042" textLength="10.29" lengthAdjust="spacingAndGlyphs">1.0</text>
<line x1="363.8" y1="240.4" x2="367.3" y2="240.4" stroke="#a7a9ac" stroke-width="1"/>
<text x="359.3" y="243.3" font-size="7.9" text-anchor="end" fill="#414042" textLength="10.29" lengthAdjust="spacingAndGlyphs">1.5</text>
<line x1="363.8" y1="213.2" x2="367.3" y2="213.2" stroke="#a7a9ac" stroke-width="1"/>
<text x="359.3" y="216.1" font-size="7.9" text-anchor="end" fill="#414042" textLength="10.29" lengthAdjust="spacingAndGlyphs">2.0</text>
<line x1="387.7" y1="320.9" x2="387.7" y2="324.9" stroke="#a7a9ac" stroke-width="1"/>
<line x1="418.5" y1="320.9" x2="418.5" y2="324.9" stroke="#a7a9ac" stroke-width="1"/>
<text x="0" y="0" font-size="8.6" text-anchor="middle" fill="#414042" transform="translate(342.0,267.2) rotate(-90)" textLength="68" lengthAdjust="spacingAndGlyphs">Relative intensity</text>
<text x="0" y="0" font-size="9" text-anchor="end" fill="#414042" transform="translate(391.9,333.7) rotate(-45)" textLength="39.1" lengthAdjust="spacingAndGlyphs">Untreated</text>
<text x="0" y="0" font-size="9" text-anchor="end" fill="#414042" transform="translate(421.1,331.7) rotate(-45)" textLength="46.2" lengthAdjust="spacingAndGlyphs">1-undecene</text>
<rect x="377.10" y="267.00" width="21.10" height="53.90" fill="#939598"/>
<path d="M378.15,320.9V268.05H397.15V320.9" fill="none" stroke="#231f20" stroke-width="2.1"/>
<rect x="408.30" y="271.80" width="20.60" height="49.10" fill="#f59fb4"/>
<path d="M409.35,320.9V272.85H427.85V320.9" fill="none" stroke="#ea2a7b" stroke-width="2.1"/>
<circle cx="389.6" cy="243.7" r="1.8" fill="#231f20"/>
<circle cx="386.8" cy="245.1" r="1.8" fill="#231f20"/>
<circle cx="385.4" cy="246.5" r="1.8" fill="#231f20"/>
<circle cx="387.5" cy="250.0" r="1.8" fill="#231f20"/>
<circle cx="386.8" cy="255.0" r="1.8" fill="#231f20"/>
<circle cx="383.9" cy="257.2" r="1.8" fill="#231f20"/>
<circle cx="391.0" cy="256.5" r="1.8" fill="#231f20"/>
<circle cx="385.4" cy="260.0" r="1.8" fill="#231f20"/>
<circle cx="390.3" cy="260.7" r="1.8" fill="#231f20"/>
<circle cx="392.5" cy="262.9" r="1.8" fill="#231f20"/>
<circle cx="383.9" cy="264.3" r="1.8" fill="#231f20"/>
<circle cx="388.2" cy="265.0" r="1.8" fill="#231f20"/>
<circle cx="382.5" cy="270.7" r="1.8" fill="#231f20"/>
<circle cx="392.5" cy="270.7" r="1.8" fill="#231f20"/>
<circle cx="385.4" cy="273.5" r="1.8" fill="#231f20"/>
<circle cx="390.3" cy="274.2" r="1.8" fill="#231f20"/>
<circle cx="383.2" cy="276.4" r="1.8" fill="#231f20"/>
<circle cx="388.2" cy="277.8" r="1.8" fill="#231f20"/>
<circle cx="385.4" cy="280.6" r="1.8" fill="#231f20"/>
<circle cx="389.6" cy="279.9" r="1.8" fill="#231f20"/>
<circle cx="387.5" cy="284.2" r="1.8" fill="#231f20"/>
<circle cx="386.1" cy="285.6" r="1.8" fill="#231f20"/>
<circle cx="380.6" cy="268.5" r="1.8" fill="#231f20"/>
<circle cx="394.5" cy="268.0" r="1.8" fill="#231f20"/>
<circle cx="386.0" cy="268.0" r="1.8" fill="#231f20"/>
<circle cx="389.0" cy="271.0" r="1.8" fill="#231f20"/>
<circle cx="381.0" cy="274.0" r="1.8" fill="#231f20"/>
<circle cx="394.0" cy="275.0" r="1.8" fill="#231f20"/>
<circle cx="384.0" cy="279.0" r="1.8" fill="#231f20"/>
<circle cx="391.0" cy="278.0" r="1.8" fill="#231f20"/>
<circle cx="416.8" cy="252.4" r="1.6" fill="#ea2a7b"/>
<circle cx="419.6" cy="255.2" r="1.6" fill="#ea2a7b"/>
<circle cx="413.9" cy="259.5" r="1.6" fill="#ea2a7b"/>
<circle cx="426.7" cy="259.5" r="1.6" fill="#ea2a7b"/>
<circle cx="412.5" cy="265.9" r="1.6" fill="#ea2a7b"/>
<circle cx="422.5" cy="265.9" r="1.6" fill="#ea2a7b"/>
<circle cx="415.4" cy="268.7" r="1.6" fill="#ea2a7b"/>
<circle cx="426.7" cy="271.6" r="1.6" fill="#ea2a7b"/>
<circle cx="411.8" cy="272.3" r="1.6" fill="#ea2a7b"/>
<circle cx="416.8" cy="286.5" r="1.6" fill="#ea2a7b"/>
<circle cx="421.0" cy="288.6" r="1.6" fill="#ea2a7b"/>
<circle cx="418.2" cy="292.9" r="1.6" fill="#ea2a7b"/>
<circle cx="412.5" cy="281.5" r="1.6" fill="#ea2a7b"/>
<circle cx="423.9" cy="281.5" r="1.6" fill="#ea2a7b"/>
<circle cx="420.0" cy="262.0" r="1.6" fill="#ea2a7b"/>
<circle cx="424.0" cy="268.0" r="1.6" fill="#ea2a7b"/>
<circle cx="410.5" cy="268.0" r="1.6" fill="#ea2a7b"/>
<circle cx="421.6" cy="272.4" r="1.3" fill="#ea2a7b"/>
<circle cx="416.0" cy="275.8" r="1.3" fill="#ea2a7b"/>
<circle cx="409.5" cy="275.6" r="1.3" fill="#ea2a7b"/>
<circle cx="410.6" cy="271.6" r="1.3" fill="#ea2a7b"/>
<circle cx="411.2" cy="278.4" r="1.3" fill="#ea2a7b"/>
<circle cx="427.4" cy="276.6" r="1.3" fill="#ea2a7b"/>
<circle cx="427.9" cy="274.6" r="1.3" fill="#ea2a7b"/>
<circle cx="414.5" cy="278.7" r="1.3" fill="#ea2a7b"/>
<circle cx="414.8" cy="272.1" r="1.3" fill="#ea2a7b"/>
<circle cx="420.1" cy="280.5" r="1.3" fill="#ea2a7b"/>
<circle cx="419.5" cy="274.4" r="1.3" fill="#ea2a7b"/>
<circle cx="412.8" cy="271.5" r="1.3" fill="#ea2a7b"/>
<circle cx="415.0" cy="274.8" r="1.3" fill="#ea2a7b"/>
<circle cx="414.7" cy="275.1" r="1.3" fill="#ea2a7b"/>
<circle cx="414.9" cy="282.1" r="1.3" fill="#ea2a7b"/>
<circle cx="426.0" cy="275.7" r="1.3" fill="#ea2a7b"/>
<circle cx="428.0" cy="273.6" r="1.3" fill="#ea2a7b"/>
<circle cx="423.6" cy="274.8" r="1.3" fill="#ea2a7b"/>
<circle cx="409.6" cy="275.4" r="1.3" fill="#ea2a7b"/>
<circle cx="420.0" cy="277.9" r="1.3" fill="#ea2a7b"/>
<circle cx="422.0" cy="280.9" r="1.3" fill="#ea2a7b"/>
<circle cx="417.7" cy="276.2" r="1.3" fill="#ea2a7b"/>
<circle cx="418.3" cy="282.8" r="1.3" fill="#ea2a7b"/>
<circle cx="422.5" cy="271.5" r="1.3" fill="#ea2a7b"/>
<circle cx="424.9" cy="279.9" r="1.3" fill="#ea2a7b"/>
<circle cx="421.9" cy="274.5" r="1.3" fill="#ea2a7b"/>
<circle cx="412.1" cy="275.2" r="1.3" fill="#ea2a7b"/>
<circle cx="423.9" cy="271.5" r="1.3" fill="#ea2a7b"/>
<circle cx="416.5" cy="273.2" r="1.3" fill="#ea2a7b"/>
<circle cx="417.6" cy="280.2" r="1.3" fill="#ea2a7b"/>
<circle cx="424.9" cy="279.0" r="1.3" fill="#ea2a7b"/>
<circle cx="417.1" cy="280.8" r="1.3" fill="#ea2a7b"/>
<circle cx="427.6" cy="279.0" r="1.3" fill="#ea2a7b"/>
<circle cx="413.3" cy="272.6" r="1.3" fill="#ea2a7b"/>
<circle cx="420.3" cy="275.4" r="1.3" fill="#ea2a7b"/>
<circle cx="417.0" cy="271.0" r="1.3" fill="#ea2a7b"/>
<circle cx="427.5" cy="276.1" r="1.3" fill="#ea2a7b"/>
<circle cx="420.9" cy="275.6" r="1.3" fill="#ea2a7b"/>
<circle cx="426.4" cy="271.5" r="1.3" fill="#ea2a7b"/>
<circle cx="424.4" cy="278.9" r="1.3" fill="#ea2a7b"/>
<circle cx="410.8" cy="274.6" r="1.3" fill="#ea2a7b"/>
<circle cx="410.1" cy="271.6" r="1.3" fill="#ea2a7b"/>
<circle cx="415.5" cy="272.5" r="1.3" fill="#ea2a7b"/>
<circle cx="411.8" cy="271.0" r="1.3" fill="#ea2a7b"/>
<circle cx="409.3" cy="274.3" r="1.3" fill="#ea2a7b"/>
<circle cx="413.4" cy="281.8" r="1.3" fill="#ea2a7b"/>
<circle cx="415.9" cy="274.1" r="1.3" fill="#ea2a7b"/>
<circle cx="428.3" cy="278.6" r="1.3" fill="#ea2a7b"/>
<circle cx="410.5" cy="275.4" r="1.3" fill="#ea2a7b"/>
<circle cx="414.0" cy="274.1" r="1.3" fill="#ea2a7b"/>
<circle cx="409.8" cy="280.5" r="1.3" fill="#ea2a7b"/>
<circle cx="413.1" cy="281.6" r="1.3" fill="#ea2a7b"/>
<circle cx="419.2" cy="271.2" r="1.3" fill="#ea2a7b"/>
<circle cx="421.2" cy="282.6" r="1.3" fill="#ea2a7b"/>
<circle cx="412.1" cy="274.3" r="1.3" fill="#ea2a7b"/>
<circle cx="424.1" cy="275.8" r="1.3" fill="#ea2a7b"/>
<circle cx="424.7" cy="273.0" r="1.3" fill="#ea2a7b"/>
<circle cx="422.6" cy="282.6" r="1.3" fill="#ea2a7b"/>
<circle cx="414.8" cy="282.2" r="1.3" fill="#ea2a7b"/>
<circle cx="409.4" cy="274.2" r="1.3" fill="#ea2a7b"/>
<circle cx="413.9" cy="273.5" r="1.3" fill="#ea2a7b"/>
<circle cx="417.6" cy="279.6" r="1.3" fill="#ea2a7b"/>
<circle cx="424.1" cy="283.0" r="1.3" fill="#ea2a7b"/>
<circle cx="413.2" cy="273.0" r="1.3" fill="#ea2a7b"/>
<circle cx="421.0" cy="272.8" r="1.3" fill="#ea2a7b"/>
<circle cx="418.3" cy="282.5" r="1.3" fill="#ea2a7b"/>
<circle cx="410.5" cy="278.2" r="1.3" fill="#ea2a7b"/>
<circle cx="424.1" cy="279.2" r="1.3" fill="#ea2a7b"/>
<circle cx="412.3" cy="275.3" r="1.3" fill="#ea2a7b"/>
<circle cx="423.7" cy="281.0" r="1.3" fill="#ea2a7b"/>
<path d="M386.8,256.5V276M381.05,256.5H392.55M381.05,276H392.55" stroke="#231f20" stroke-width="2.3" fill="none"/>
<path d="M418.3,262.6V282.3M411.8,262.6H424.8M411.8,282.3H424.8" stroke="#231f20" stroke-width="2.3" fill="none"/>
<polyline points="387.7,238.2 387.7,230.9 418.5,230.9 418.5,247.5" fill="none" stroke="#231f20" stroke-width="1.7"/>
<polygon points="402.40,224.30 402.98,225.70 404.49,225.82 403.34,226.81 403.69,228.28 402.40,227.49 401.11,228.28 401.46,226.81 400.31,225.82 401.82,225.70" fill="#3a3a3c"/>
<text x="520.5" y="183.9" font-size="8.6" text-anchor="middle" fill="#414042" textLength="55.2" lengthAdjust="spacingAndGlyphs">Muscle polyQ</text>
<text x="520.5" y="193.6" font-size="8.6" font-style="italic" text-anchor="middle" fill="#414042" textLength="74" lengthAdjust="spacingAndGlyphs">unc-54p::Q35::YFP</text>
<line x1="485" y1="213.4" x2="485" y2="320.9" stroke="#a7a9ac" stroke-width="1"/>
<line x1="482" y1="321.29999999999995" x2="556" y2="321.29999999999995" stroke="#c9cacc" stroke-width="1.5"/>
<line x1="481.5" y1="320.9" x2="485" y2="320.9" stroke="#a7a9ac" stroke-width="1"/>
<text x="477" y="323.8" font-size="7.9" text-anchor="end" fill="#414042" textLength="4.11" lengthAdjust="spacingAndGlyphs">0</text>
<line x1="481.5" y1="285.1" x2="485" y2="285.1" stroke="#a7a9ac" stroke-width="1"/>
<text x="477" y="288.0" font-size="7.9" text-anchor="end" fill="#414042" textLength="10.29" lengthAdjust="spacingAndGlyphs">0.5</text>
<line x1="481.5" y1="249.7" x2="485" y2="249.7" stroke="#a7a9ac" stroke-width="1"/>
<text x="477" y="252.6" font-size="7.9" text-anchor="end" fill="#414042" textLength="10.29" lengthAdjust="spacingAndGlyphs">1.0</text>
<line x1="481.5" y1="213.4" x2="485" y2="213.4" stroke="#a7a9ac" stroke-width="1"/>
<text x="477" y="216.3" font-size="7.9" text-anchor="end" fill="#414042" textLength="10.29" lengthAdjust="spacingAndGlyphs">1.5</text>
<line x1="505.3" y1="320.9" x2="505.3" y2="324.9" stroke="#a7a9ac" stroke-width="1"/>
<line x1="535.8" y1="320.9" x2="535.8" y2="324.9" stroke="#a7a9ac" stroke-width="1"/>
<text x="0" y="0" font-size="8.6" text-anchor="middle" fill="#414042" transform="translate(459.8,267.2) rotate(-90)" textLength="68" lengthAdjust="spacingAndGlyphs">Relative intensity</text>
<text x="0" y="0" font-size="9" text-anchor="end" fill="#414042" transform="translate(510.3,333.7) rotate(-45)" textLength="39.1" lengthAdjust="spacingAndGlyphs">Untreated</text>
<text x="0" y="0" font-size="9" text-anchor="end" fill="#414042" transform="translate(539.3,331.7) rotate(-45)" textLength="46.2" lengthAdjust="spacingAndGlyphs">1-undecene</text>
<rect x="495.10" y="249.20" width="20.60" height="71.70" fill="#939598"/>
<path d="M496.15,320.9V250.25H514.65V320.9" fill="none" stroke="#231f20" stroke-width="2.1"/>
<rect x="525.80" y="260.60" width="20.50" height="60.30" fill="#f59fb4"/>
<path d="M526.85,320.9V261.65H545.25V320.9" fill="none" stroke="#ea2a7b" stroke-width="2.1"/>
<circle cx="505.3" cy="221.4" r="1.7" fill="#231f20"/>
<circle cx="505.3" cy="227.3" r="1.7" fill="#231f20"/>
<circle cx="505.3" cy="230.6" r="1.7" fill="#231f20"/>
<circle cx="497.2" cy="243.7" r="1.7" fill="#231f20"/>
<circle cx="501.3" cy="246.7" r="1.7" fill="#231f20"/>
<circle cx="509.5" cy="242.6" r="1.7" fill="#231f20"/>
<circle cx="514.2" cy="243.3" r="1.7" fill="#231f20"/>
<circle cx="505.4" cy="245.7" r="1.7" fill="#231f20"/>
<circle cx="497.2" cy="254.9" r="1.7" fill="#231f20"/>
<circle cx="500.2" cy="258.0" r="1.7" fill="#231f20"/>
<circle cx="509.5" cy="257.0" r="1.7" fill="#231f20"/>
<circle cx="514.2" cy="257.0" r="1.7" fill="#231f20"/>
<circle cx="505.4" cy="258.0" r="1.7" fill="#231f20"/>
<circle cx="505.0" cy="270.3" r="1.7" fill="#231f20"/>
<circle cx="505.0" cy="281.0" r="1.7" fill="#231f20"/>
<circle cx="535.5" cy="231.0" r="1.7" fill="#ea2a7b"/>
<circle cx="532.0" cy="243.3" r="1.7" fill="#ea2a7b"/>
<circle cx="536.1" cy="242.6" r="1.7" fill="#ea2a7b"/>
<circle cx="540.2" cy="245.7" r="1.7" fill="#ea2a7b"/>
<circle cx="533.0" cy="257.0" r="1.7" fill="#ea2a7b"/>
<circle cx="540.2" cy="256.0" r="1.7" fill="#ea2a7b"/>
<circle cx="531.0" cy="261.0" r="1.7" fill="#ea2a7b"/>
<circle cx="538.1" cy="262.5" r="1.7" fill="#ea2a7b"/>
<circle cx="531.0" cy="268.2" r="1.7" fill="#ea2a7b"/>
<circle cx="539.2" cy="269.3" r="1.7" fill="#ea2a7b"/>
<circle cx="532.0" cy="278.5" r="1.7" fill="#ea2a7b"/>
<circle cx="542.2" cy="276.4" r="1.7" fill="#ea2a7b"/>
<circle cx="536.1" cy="274.4" r="1.7" fill="#ea2a7b"/>
<path d="M505.3,235.5V263.7M499.15000000000003,235.5H511.45M499.15000000000003,263.7H511.45" stroke="#231f20" stroke-width="2.3" fill="none"/>
<path d="M536.2,246.7V274.4M530.0500000000001,246.7H542.35M530.0500000000001,274.4H542.35" stroke="#231f20" stroke-width="2.3" fill="none"/>
<polyline points="505.3,218 505.3,211.1 536.3,211.1 536.3,227.8" fill="none" stroke="#231f20" stroke-width="1.7"/>
<polygon points="520.60,204.70 521.18,206.10 522.69,206.22 521.54,207.21 521.89,208.68 520.60,207.89 519.31,208.68 519.66,207.21 518.51,206.22 520.02,206.10" fill="#3a3a3c"/>
<text x="576.5" y="180.8" font-size="13.2" font-weight="bold" fill="#000">f</text>
<text x="641.4" y="183.9" font-size="8.6" text-anchor="middle" fill="#414042" textLength="54.7" lengthAdjust="spacingAndGlyphs">Muscle polyQ</text>
<text x="641.4" y="193.6" font-size="8.6" font-style="italic" text-anchor="middle" fill="#414042" textLength="48.5" lengthAdjust="spacingAndGlyphs">daf-7(e1372)</text>
<line x1="609.5" y1="208.3" x2="609.5" y2="320.3" stroke="#a7a9ac" stroke-width="1"/>
<line x1="606.5" y1="320.7" x2="672.8" y2="320.7" stroke="#c9cacc" stroke-width="1.5"/>
<line x1="606.0" y1="320.3" x2="609.5" y2="320.3" stroke="#a7a9ac" stroke-width="1"/>
<text x="601.5" y="323.2" font-size="7.9" text-anchor="end" fill="#414042" textLength="4.11" lengthAdjust="spacingAndGlyphs">0</text>
<line x1="606.0" y1="292.2" x2="609.5" y2="292.2" stroke="#a7a9ac" stroke-width="1"/>
<text x="601.5" y="295.1" font-size="7.9" text-anchor="end" fill="#414042" textLength="10.29" lengthAdjust="spacingAndGlyphs">0.5</text>
<line x1="606.0" y1="264.2" x2="609.5" y2="264.2" stroke="#a7a9ac" stroke-width="1"/>
<text x="601.5" y="267.1" font-size="7.9" text-anchor="end" fill="#414042" textLength="10.29" lengthAdjust="spacingAndGlyphs">1.0</text>
<line x1="606.0" y1="236.3" x2="609.5" y2="236.3" stroke="#a7a9ac" stroke-width="1"/>
<text x="601.5" y="239.2" font-size="7.9" text-anchor="end" fill="#414042" textLength="10.29" lengthAdjust="spacingAndGlyphs">1.5</text>
<line x1="606.0" y1="208.3" x2="609.5" y2="208.3" stroke="#a7a9ac" stroke-width="1"/>
<text x="601.5" y="211.2" font-size="7.9" text-anchor="end" fill="#414042" textLength="10.29" lengthAdjust="spacingAndGlyphs">2.0</text>
<line x1="627.4" y1="320.3" x2="627.4" y2="324.3" stroke="#a7a9ac" stroke-width="1"/>
<line x1="654.7" y1="320.3" x2="654.7" y2="324.3" stroke="#a7a9ac" stroke-width="1"/>
<text x="0" y="0" font-size="8.6" text-anchor="middle" fill="#414042" transform="translate(585.2,264) rotate(-90)" textLength="68" lengthAdjust="spacingAndGlyphs">Relative intensity</text>
<text x="0" y="0" font-size="9" text-anchor="end" fill="#414042" transform="translate(633.8,333.7) rotate(-45)" textLength="39.1" lengthAdjust="spacingAndGlyphs">Untreated</text>
<text x="0" y="0" font-size="9" text-anchor="end" fill="#414042" transform="translate(658.8,331.7) rotate(-45)" textLength="46.2" lengthAdjust="spacingAndGlyphs">1-undecene</text>
<rect x="618.20" y="264.30" width="18.70" height="56.00" fill="#bcbec0"/>
<path d="M619.25,320.3V265.35H635.85V320.3" fill="none" stroke="#231f20" stroke-width="2.1"/>
<rect x="644.80" y="265.10" width="19.20" height="55.20" fill="#f5aecb"/>
<path d="M645.85,320.3V266.15H662.95V320.3" fill="none" stroke="#ea2a7b" stroke-width="2.1"/>
<circle cx="634.1" cy="262.4" r="1.25" fill="#231f20"/>
<circle cx="628.8" cy="262.0" r="1.25" fill="#231f20"/>
<circle cx="629.0" cy="257.5" r="1.25" fill="#231f20"/>
<circle cx="624.8" cy="271.5" r="1.25" fill="#231f20"/>
<circle cx="629.2" cy="255.1" r="1.25" fill="#231f20"/>
<circle cx="629.2" cy="251.4" r="1.25" fill="#231f20"/>
<circle cx="622.2" cy="268.7" r="1.25" fill="#231f20"/>
<circle cx="626.2" cy="247.6" r="1.25" fill="#231f20"/>
<circle cx="622.5" cy="256.7" r="1.25" fill="#231f20"/>
<circle cx="632.7" cy="261.6" r="1.25" fill="#231f20"/>
<circle cx="627.5" cy="268.8" r="1.25" fill="#231f20"/>
<circle cx="624.0" cy="267.7" r="1.25" fill="#231f20"/>
<circle cx="629.5" cy="279.4" r="1.25" fill="#231f20"/>
<circle cx="623.1" cy="266.9" r="1.25" fill="#231f20"/>
<circle cx="631.1" cy="259.4" r="1.25" fill="#231f20"/>
<circle cx="625.6" cy="264.1" r="1.25" fill="#231f20"/>
<circle cx="624.3" cy="278.9" r="1.25" fill="#231f20"/>
<circle cx="627.1" cy="258.7" r="1.25" fill="#231f20"/>
<circle cx="624.2" cy="277.4" r="1.25" fill="#231f20"/>
<circle cx="624.1" cy="269.7" r="1.25" fill="#231f20"/>
<circle cx="630.1" cy="253.0" r="1.25" fill="#231f20"/>
<circle cx="623.2" cy="265.7" r="1.25" fill="#231f20"/>
<circle cx="628.7" cy="251.8" r="1.25" fill="#231f20"/>
<circle cx="626.9" cy="257.7" r="1.25" fill="#231f20"/>
<circle cx="622.9" cy="258.2" r="1.25" fill="#231f20"/>
<circle cx="626.2" cy="265.7" r="1.25" fill="#231f20"/>
<circle cx="632.6" cy="256.8" r="1.25" fill="#231f20"/>
<circle cx="632.4" cy="272.5" r="1.25" fill="#231f20"/>
<circle cx="631.5" cy="257.2" r="1.25" fill="#231f20"/>
<circle cx="635.8" cy="265.6" r="1.25" fill="#231f20"/>
<circle cx="630.4" cy="256.8" r="1.25" fill="#231f20"/>
<circle cx="621.3" cy="260.8" r="1.25" fill="#231f20"/>
<circle cx="625.6" cy="254.1" r="1.25" fill="#231f20"/>
<circle cx="626.7" cy="267.2" r="1.25" fill="#231f20"/>
<circle cx="628.1" cy="277.6" r="1.25" fill="#231f20"/>
<circle cx="622.9" cy="271.9" r="1.25" fill="#231f20"/>
<circle cx="625.0" cy="275.1" r="1.25" fill="#231f20"/>
<circle cx="633.0" cy="258.2" r="1.25" fill="#231f20"/>
<circle cx="632.6" cy="258.9" r="1.25" fill="#231f20"/>
<circle cx="621.2" cy="267.5" r="1.25" fill="#231f20"/>
<circle cx="626.6" cy="251.2" r="1.25" fill="#231f20"/>
<circle cx="632.8" cy="266.5" r="1.25" fill="#231f20"/>
<circle cx="622.2" cy="266.8" r="1.25" fill="#231f20"/>
<circle cx="622.9" cy="265.4" r="1.25" fill="#231f20"/>
<circle cx="629.2" cy="270.1" r="1.25" fill="#231f20"/>
<circle cx="622.5" cy="264.5" r="1.25" fill="#231f20"/>
<circle cx="627.4" cy="245.5" r="1.25" fill="#231f20"/>
<circle cx="627.2" cy="244.7" r="1.25" fill="#231f20"/>
<circle cx="625.2" cy="265.8" r="1.25" fill="#231f20"/>
<circle cx="628.9" cy="275.9" r="1.25" fill="#231f20"/>
<circle cx="621.9" cy="268.5" r="1.25" fill="#231f20"/>
<circle cx="628.3" cy="243.4" r="1.25" fill="#231f20"/>
<circle cx="620.6" cy="270.8" r="1.25" fill="#231f20"/>
<circle cx="631.1" cy="267.9" r="1.25" fill="#231f20"/>
<circle cx="620.2" cy="265.0" r="1.25" fill="#231f20"/>
<circle cx="633.5" cy="269.4" r="1.25" fill="#231f20"/>
<circle cx="631.9" cy="269.2" r="1.25" fill="#231f20"/>
<circle cx="629.8" cy="272.8" r="1.25" fill="#231f20"/>
<circle cx="626.7" cy="275.4" r="1.25" fill="#231f20"/>
<circle cx="628.2" cy="275.3" r="1.25" fill="#231f20"/>
<circle cx="628.8" cy="267.3" r="1.25" fill="#231f20"/>
<circle cx="629.9" cy="265.5" r="1.25" fill="#231f20"/>
<circle cx="629.0" cy="279.0" r="1.25" fill="#231f20"/>
<circle cx="628.8" cy="263.4" r="1.25" fill="#231f20"/>
<circle cx="620.6" cy="264.0" r="1.25" fill="#231f20"/>
<circle cx="629.2" cy="265.2" r="1.25" fill="#231f20"/>
<circle cx="630.3" cy="260.4" r="1.25" fill="#231f20"/>
<circle cx="634.1" cy="262.7" r="1.25" fill="#231f20"/>
<circle cx="624.8" cy="259.1" r="1.25" fill="#231f20"/>
<circle cx="622.0" cy="266.2" r="1.25" fill="#231f20"/>
<circle cx="626.9" cy="274.3" r="1.25" fill="#231f20"/>
<circle cx="629.6" cy="272.6" r="1.25" fill="#231f20"/>
<circle cx="631.0" cy="257.3" r="1.25" fill="#231f20"/>
<circle cx="626.4" cy="275.4" r="1.25" fill="#231f20"/>
<circle cx="621.6" cy="266.9" r="1.25" fill="#231f20"/>
<circle cx="633.3" cy="264.0" r="1.25" fill="#231f20"/>
<circle cx="624.3" cy="270.7" r="1.25" fill="#231f20"/>
<circle cx="624.9" cy="257.4" r="1.25" fill="#231f20"/>
<circle cx="628.9" cy="257.2" r="1.25" fill="#231f20"/>
<circle cx="632.5" cy="260.9" r="1.25" fill="#231f20"/>
<circle cx="624.2" cy="277.5" r="1.25" fill="#231f20"/>
<circle cx="625.9" cy="250.5" r="1.25" fill="#231f20"/>
<circle cx="624.5" cy="268.4" r="1.25" fill="#231f20"/>
<circle cx="622.4" cy="271.1" r="1.25" fill="#231f20"/>
<circle cx="631.9" cy="259.1" r="1.25" fill="#231f20"/>
<circle cx="622.8" cy="256.4" r="1.25" fill="#231f20"/>
<circle cx="629.6" cy="267.7" r="1.25" fill="#231f20"/>
<circle cx="634.3" cy="269.8" r="1.25" fill="#231f20"/>
<circle cx="627.1" cy="266.2" r="1.25" fill="#231f20"/>
<circle cx="627.2" cy="256.0" r="1.25" fill="#231f20"/>
<circle cx="623.7" cy="266.1" r="1.25" fill="#231f20"/>
<circle cx="627.8" cy="263.2" r="1.25" fill="#231f20"/>
<circle cx="625.9" cy="269.5" r="1.25" fill="#231f20"/>
<circle cx="623.6" cy="275.5" r="1.25" fill="#231f20"/>
<circle cx="625.0" cy="278.5" r="1.25" fill="#231f20"/>
<circle cx="634.0" cy="262.8" r="1.25" fill="#231f20"/>
<circle cx="633.4" cy="262.4" r="1.25" fill="#231f20"/>
<circle cx="627.2" cy="275.7" r="1.25" fill="#231f20"/>
<circle cx="631.2" cy="266.2" r="1.25" fill="#231f20"/>
<circle cx="629.9" cy="274.2" r="1.25" fill="#231f20"/>
<circle cx="633.8" cy="258.7" r="1.25" fill="#231f20"/>
<circle cx="629.6" cy="277.8" r="1.25" fill="#231f20"/>
<circle cx="633.5" cy="264.5" r="1.25" fill="#231f20"/>
<circle cx="626.7" cy="259.5" r="1.25" fill="#231f20"/>
<circle cx="627.3" cy="269.6" r="1.25" fill="#231f20"/>
<circle cx="626.1" cy="249.9" r="1.25" fill="#231f20"/>
<circle cx="625.3" cy="271.9" r="1.25" fill="#231f20"/>
<circle cx="622.8" cy="271.7" r="1.25" fill="#231f20"/>
<circle cx="632.6" cy="269.3" r="1.25" fill="#231f20"/>
<circle cx="627.4" cy="270.7" r="1.25" fill="#231f20"/>
<circle cx="625.1" cy="276.3" r="1.25" fill="#231f20"/>
<circle cx="631.2" cy="266.7" r="1.25" fill="#231f20"/>
<circle cx="632.9" cy="268.1" r="1.25" fill="#231f20"/>
<circle cx="625.6" cy="266.9" r="1.25" fill="#231f20"/>
<circle cx="624.7" cy="275.5" r="1.25" fill="#231f20"/>
<circle cx="627.7" cy="275.8" r="1.25" fill="#231f20"/>
<circle cx="628.1" cy="266.2" r="1.25" fill="#231f20"/>
<circle cx="620.2" cy="268.6" r="1.25" fill="#231f20"/>
<circle cx="626.8" cy="277.8" r="1.25" fill="#231f20"/>
<circle cx="627.4" cy="273.8" r="1.25" fill="#231f20"/>
<circle cx="628.2" cy="265.4" r="1.25" fill="#231f20"/>
<circle cx="634.7" cy="264.7" r="1.25" fill="#231f20"/>
<circle cx="621.8" cy="261.8" r="1.25" fill="#231f20"/>
<circle cx="634.1" cy="263.9" r="1.25" fill="#231f20"/>
<circle cx="623.0" cy="260.9" r="1.25" fill="#231f20"/>
<circle cx="622.2" cy="270.6" r="1.25" fill="#231f20"/>
<circle cx="623.2" cy="271.1" r="1.25" fill="#231f20"/>
<circle cx="625.3" cy="258.1" r="1.25" fill="#231f20"/>
<circle cx="621.3" cy="262.7" r="1.25" fill="#231f20"/>
<circle cx="627.7" cy="265.7" r="1.25" fill="#231f20"/>
<circle cx="627.9" cy="260.2" r="1.25" fill="#231f20"/>
<circle cx="626.2" cy="261.3" r="1.25" fill="#231f20"/>
<circle cx="622.6" cy="266.0" r="1.25" fill="#231f20"/>
<circle cx="628.0" cy="268.8" r="1.25" fill="#231f20"/>
<circle cx="631.4" cy="274.1" r="1.25" fill="#231f20"/>
<circle cx="631.4" cy="258.2" r="1.25" fill="#231f20"/>
<circle cx="625.2" cy="272.6" r="1.25" fill="#231f20"/>
<circle cx="634.0" cy="272.1" r="1.25" fill="#231f20"/>
<circle cx="624.0" cy="271.7" r="1.25" fill="#231f20"/>
<circle cx="620.9" cy="266.6" r="1.25" fill="#231f20"/>
<circle cx="631.0" cy="273.1" r="1.25" fill="#231f20"/>
<circle cx="628.6" cy="253.3" r="1.25" fill="#231f20"/>
<circle cx="627.9" cy="244.9" r="1.25" fill="#231f20"/>
<circle cx="624.0" cy="275.8" r="1.25" fill="#231f20"/>
<circle cx="627.5" cy="269.5" r="1.25" fill="#231f20"/>
<circle cx="620.4" cy="266.1" r="1.25" fill="#231f20"/>
<circle cx="627.7" cy="251.7" r="1.25" fill="#231f20"/>
<circle cx="622.0" cy="268.4" r="1.25" fill="#231f20"/>
<circle cx="631.1" cy="256.6" r="1.25" fill="#231f20"/>
<circle cx="625.0" cy="279.2" r="1.25" fill="#231f20"/>
<circle cx="627.4" cy="251.1" r="1.25" fill="#231f20"/>
<circle cx="627.0" cy="267.0" r="1.25" fill="#231f20"/>
<circle cx="629.1" cy="267.6" r="1.25" fill="#231f20"/>
<circle cx="628.6" cy="249.0" r="1.25" fill="#231f20"/>
<circle cx="630.2" cy="257.4" r="1.25" fill="#231f20"/>
<circle cx="622.8" cy="260.2" r="1.25" fill="#231f20"/>
<circle cx="634.2" cy="265.1" r="1.25" fill="#231f20"/>
<circle cx="631.3" cy="274.5" r="1.25" fill="#231f20"/>
<circle cx="629.1" cy="267.4" r="1.25" fill="#231f20"/>
<circle cx="631.8" cy="270.9" r="1.25" fill="#231f20"/>
<circle cx="631.6" cy="264.5" r="1.25" fill="#231f20"/>
<circle cx="626.6" cy="275.1" r="1.25" fill="#231f20"/>
<circle cx="629.4" cy="275.4" r="1.25" fill="#231f20"/>
<circle cx="626.5" cy="274.8" r="1.25" fill="#231f20"/>
<circle cx="624.8" cy="265.4" r="1.25" fill="#231f20"/>
<circle cx="625.6" cy="259.1" r="1.25" fill="#231f20"/>
<circle cx="623.4" cy="268.7" r="1.25" fill="#231f20"/>
<circle cx="626.4" cy="278.3" r="1.25" fill="#231f20"/>
<circle cx="628.0" cy="268.4" r="1.25" fill="#231f20"/>
<circle cx="629.9" cy="265.0" r="1.25" fill="#231f20"/>
<circle cx="634.7" cy="269.6" r="1.25" fill="#231f20"/>
<circle cx="628.2" cy="248.3" r="1.25" fill="#231f20"/>
<circle cx="620.8" cy="261.4" r="1.25" fill="#231f20"/>
<circle cx="623.0" cy="257.1" r="1.25" fill="#231f20"/>
<circle cx="628.3" cy="264.4" r="1.25" fill="#231f20"/>
<circle cx="628.5" cy="270.8" r="1.25" fill="#231f20"/>
<circle cx="629.7" cy="278.2" r="1.25" fill="#231f20"/>
<circle cx="629.4" cy="254.2" r="1.25" fill="#231f20"/>
<circle cx="626.3" cy="250.9" r="1.25" fill="#231f20"/>
<circle cx="627.4" cy="260.0" r="1.25" fill="#231f20"/>
<circle cx="635.1" cy="265.4" r="1.25" fill="#231f20"/>
<circle cx="629.0" cy="262.2" r="1.25" fill="#231f20"/>
<circle cx="629.7" cy="260.7" r="1.25" fill="#231f20"/>
<circle cx="631.0" cy="266.7" r="1.25" fill="#231f20"/>
<circle cx="624.1" cy="259.1" r="1.25" fill="#231f20"/>
<circle cx="628.1" cy="244.6" r="1.25" fill="#231f20"/>
<circle cx="631.7" cy="264.4" r="1.25" fill="#231f20"/>
<circle cx="629.1" cy="251.4" r="1.25" fill="#231f20"/>
<circle cx="626.9" cy="255.6" r="1.25" fill="#231f20"/>
<circle cx="623.1" cy="264.8" r="1.25" fill="#231f20"/>
<circle cx="630.7" cy="270.6" r="1.25" fill="#231f20"/>
<circle cx="632.9" cy="264.9" r="1.25" fill="#231f20"/>
<circle cx="629.6" cy="265.7" r="1.25" fill="#231f20"/>
<circle cx="621.2" cy="260.2" r="1.25" fill="#231f20"/>
<circle cx="626.5" cy="265.7" r="1.25" fill="#231f20"/>
<circle cx="623.7" cy="267.7" r="1.25" fill="#231f20"/>
<circle cx="631.9" cy="267.5" r="1.25" fill="#231f20"/>
<circle cx="633.9" cy="271.0" r="1.25" fill="#231f20"/>
<circle cx="621.1" cy="266.4" r="1.25" fill="#231f20"/>
<circle cx="628.8" cy="274.9" r="1.25" fill="#231f20"/>
<circle cx="630.2" cy="260.6" r="1.25" fill="#231f20"/>
<circle cx="629.6" cy="268.6" r="1.25" fill="#231f20"/>
<circle cx="623.3" cy="266.1" r="1.25" fill="#231f20"/>
<circle cx="629.9" cy="279.1" r="1.25" fill="#231f20"/>
<circle cx="627.0" cy="243.8" r="1.25" fill="#231f20"/>
<circle cx="621.2" cy="262.7" r="1.25" fill="#231f20"/>
<circle cx="620.5" cy="265.4" r="1.25" fill="#231f20"/>
<circle cx="629.5" cy="268.3" r="1.25" fill="#231f20"/>
<circle cx="623.1" cy="261.9" r="1.25" fill="#231f20"/>
<circle cx="633.0" cy="263.5" r="1.25" fill="#231f20"/>
<circle cx="628.8" cy="252.0" r="1.25" fill="#231f20"/>
<circle cx="623.2" cy="269.6" r="1.25" fill="#231f20"/>
<circle cx="632.0" cy="260.5" r="1.25" fill="#231f20"/>
<circle cx="635.3" cy="262.9" r="1.25" fill="#231f20"/>
<circle cx="631.3" cy="262.3" r="1.25" fill="#231f20"/>
<circle cx="625.9" cy="273.1" r="1.25" fill="#231f20"/>
<circle cx="623.7" cy="255.4" r="1.25" fill="#231f20"/>
<circle cx="627.4" cy="254.0" r="1.25" fill="#231f20"/>
<circle cx="632.0" cy="266.8" r="1.25" fill="#231f20"/>
<circle cx="628.3" cy="252.5" r="1.25" fill="#231f20"/>
<circle cx="628.7" cy="252.9" r="1.25" fill="#231f20"/>
<circle cx="621.7" cy="266.7" r="1.25" fill="#231f20"/>
<circle cx="625.3" cy="263.4" r="1.25" fill="#231f20"/>
<circle cx="628.1" cy="254.7" r="1.25" fill="#231f20"/>
<circle cx="631.3" cy="275.7" r="1.25" fill="#231f20"/>
<circle cx="624.3" cy="263.8" r="1.25" fill="#231f20"/>
<circle cx="634.0" cy="261.4" r="1.25" fill="#231f20"/>
<circle cx="625.7" cy="272.2" r="1.25" fill="#231f20"/>
<circle cx="626.0" cy="261.2" r="1.25" fill="#231f20"/>
<circle cx="628.4" cy="260.2" r="1.25" fill="#231f20"/>
<circle cx="631.3" cy="273.7" r="1.25" fill="#231f20"/>
<circle cx="631.8" cy="266.1" r="1.25" fill="#231f20"/>
<circle cx="621.4" cy="272.4" r="1.25" fill="#231f20"/>
<circle cx="628.6" cy="268.3" r="1.25" fill="#231f20"/>
<circle cx="629.6" cy="278.2" r="1.25" fill="#231f20"/>
<circle cx="628.3" cy="247.8" r="1.25" fill="#231f20"/>
<circle cx="628.5" cy="251.9" r="1.25" fill="#231f20"/>
<circle cx="629.3" cy="271.4" r="1.25" fill="#231f20"/>
<circle cx="628.7" cy="254.9" r="1.25" fill="#231f20"/>
<circle cx="630.3" cy="256.7" r="1.25" fill="#231f20"/>
<circle cx="625.9" cy="269.6" r="1.25" fill="#231f20"/>
<circle cx="630.4" cy="264.8" r="1.25" fill="#231f20"/>
<circle cx="630.9" cy="262.2" r="1.25" fill="#231f20"/>
<circle cx="626.2" cy="270.5" r="1.25" fill="#231f20"/>
<circle cx="631.3" cy="274.3" r="1.25" fill="#231f20"/>
<circle cx="631.3" cy="275.2" r="1.25" fill="#231f20"/>
<circle cx="627.7" cy="278.2" r="1.25" fill="#231f20"/>
<circle cx="626.3" cy="269.8" r="1.25" fill="#231f20"/>
<circle cx="630.9" cy="259.9" r="1.25" fill="#231f20"/>
<circle cx="624.9" cy="277.3" r="1.25" fill="#231f20"/>
<circle cx="625.1" cy="257.3" r="1.25" fill="#231f20"/>
<circle cx="625.8" cy="276.2" r="1.25" fill="#231f20"/>
<circle cx="629.6" cy="254.4" r="1.25" fill="#231f20"/>
<circle cx="627.1" cy="256.2" r="1.25" fill="#231f20"/>
<circle cx="620.8" cy="270.5" r="1.25" fill="#231f20"/>
<circle cx="626.2" cy="252.3" r="1.25" fill="#231f20"/>
<circle cx="628.7" cy="258.2" r="1.25" fill="#231f20"/>
<circle cx="625.2" cy="256.6" r="1.25" fill="#231f20"/>
<circle cx="625.1" cy="258.3" r="1.25" fill="#231f20"/>
<circle cx="627.2" cy="269.9" r="1.25" fill="#231f20"/>
<circle cx="654.6" cy="246.8" r="1.25" fill="#ea2a7b"/>
<circle cx="655.4" cy="248.1" r="1.25" fill="#ea2a7b"/>
<circle cx="654.4" cy="249.4" r="1.25" fill="#ea2a7b"/>
<circle cx="653.9" cy="250.7" r="1.25" fill="#ea2a7b"/>
<circle cx="655.0" cy="252.0" r="1.25" fill="#ea2a7b"/>
<circle cx="655.2" cy="253.3" r="1.25" fill="#ea2a7b"/>
<circle cx="654.0" cy="254.6" r="1.25" fill="#ea2a7b"/>
<circle cx="627.5" cy="243.8" r="1.3" fill="#231f20"/>
<circle cx="628.1" cy="245.1" r="1.3" fill="#231f20"/>
<circle cx="628.1" cy="246.4" r="1.3" fill="#231f20"/>
<circle cx="627.4" cy="247.7" r="1.3" fill="#231f20"/>
<circle cx="626.8" cy="249.0" r="1.3" fill="#231f20"/>
<circle cx="627.0" cy="250.3" r="1.3" fill="#231f20"/>
<circle cx="627.7" cy="251.6" r="1.3" fill="#231f20"/>
<circle cx="657.9" cy="263.6" r="1.25" fill="#ea2a7b"/>
<circle cx="651.2" cy="271.9" r="1.25" fill="#ea2a7b"/>
<circle cx="656.1" cy="256.0" r="1.25" fill="#ea2a7b"/>
<circle cx="651.6" cy="257.8" r="1.25" fill="#ea2a7b"/>
<circle cx="660.5" cy="262.5" r="1.25" fill="#ea2a7b"/>
<circle cx="650.5" cy="265.1" r="1.25" fill="#ea2a7b"/>
<circle cx="659.2" cy="259.8" r="1.25" fill="#ea2a7b"/>
<circle cx="656.8" cy="275.1" r="1.25" fill="#ea2a7b"/>
<circle cx="653.4" cy="279.2" r="1.25" fill="#ea2a7b"/>
<circle cx="657.4" cy="273.4" r="1.25" fill="#ea2a7b"/>
<circle cx="652.4" cy="267.6" r="1.25" fill="#ea2a7b"/>
<circle cx="648.0" cy="262.0" r="1.25" fill="#ea2a7b"/>
<circle cx="659.0" cy="275.0" r="1.25" fill="#ea2a7b"/>
<circle cx="658.5" cy="268.3" r="1.25" fill="#ea2a7b"/>
<circle cx="653.9" cy="258.7" r="1.25" fill="#ea2a7b"/>
<circle cx="654.7" cy="255.8" r="1.25" fill="#ea2a7b"/>
<circle cx="656.4" cy="262.6" r="1.25" fill="#ea2a7b"/>
<circle cx="654.4" cy="261.2" r="1.25" fill="#ea2a7b"/>
<circle cx="652.6" cy="256.0" r="1.25" fill="#ea2a7b"/>
<circle cx="657.1" cy="260.9" r="1.25" fill="#ea2a7b"/>
<circle cx="656.0" cy="277.6" r="1.25" fill="#ea2a7b"/>
<circle cx="651.8" cy="276.2" r="1.25" fill="#ea2a7b"/>
<circle cx="655.8" cy="275.2" r="1.25" fill="#ea2a7b"/>
<circle cx="657.9" cy="257.1" r="1.25" fill="#ea2a7b"/>
<circle cx="651.9" cy="275.0" r="1.25" fill="#ea2a7b"/>
<circle cx="657.1" cy="272.9" r="1.25" fill="#ea2a7b"/>
<circle cx="656.3" cy="260.4" r="1.25" fill="#ea2a7b"/>
<circle cx="656.6" cy="266.3" r="1.25" fill="#ea2a7b"/>
<circle cx="652.4" cy="268.5" r="1.25" fill="#ea2a7b"/>
<circle cx="651.2" cy="267.0" r="1.25" fill="#ea2a7b"/>
<circle cx="649.8" cy="258.7" r="1.25" fill="#ea2a7b"/>
<circle cx="655.2" cy="255.0" r="1.25" fill="#ea2a7b"/>
<circle cx="647.3" cy="268.3" r="1.25" fill="#ea2a7b"/>
<circle cx="647.6" cy="262.1" r="1.25" fill="#ea2a7b"/>
<circle cx="653.2" cy="254.6" r="1.25" fill="#ea2a7b"/>
<circle cx="656.3" cy="261.8" r="1.25" fill="#ea2a7b"/>
<circle cx="653.3" cy="257.4" r="1.25" fill="#ea2a7b"/>
<circle cx="652.4" cy="271.0" r="1.25" fill="#ea2a7b"/>
<circle cx="654.8" cy="270.8" r="1.25" fill="#ea2a7b"/>
<circle cx="651.0" cy="263.5" r="1.25" fill="#ea2a7b"/>
<circle cx="655.8" cy="250.5" r="1.25" fill="#ea2a7b"/>
<circle cx="657.8" cy="266.5" r="1.25" fill="#ea2a7b"/>
<circle cx="655.7" cy="272.3" r="1.25" fill="#ea2a7b"/>
<circle cx="651.0" cy="261.7" r="1.25" fill="#ea2a7b"/>
<circle cx="650.8" cy="256.7" r="1.25" fill="#ea2a7b"/>
<circle cx="658.9" cy="261.0" r="1.25" fill="#ea2a7b"/>
<circle cx="659.6" cy="265.0" r="1.25" fill="#ea2a7b"/>
<circle cx="655.1" cy="257.5" r="1.25" fill="#ea2a7b"/>
<circle cx="653.5" cy="261.9" r="1.25" fill="#ea2a7b"/>
<circle cx="648.8" cy="259.8" r="1.25" fill="#ea2a7b"/>
<circle cx="652.2" cy="272.1" r="1.25" fill="#ea2a7b"/>
<circle cx="648.4" cy="260.7" r="1.25" fill="#ea2a7b"/>
<circle cx="661.1" cy="262.5" r="1.25" fill="#ea2a7b"/>
<circle cx="654.9" cy="276.2" r="1.25" fill="#ea2a7b"/>
<circle cx="652.1" cy="259.4" r="1.25" fill="#ea2a7b"/>
<circle cx="650.7" cy="273.7" r="1.25" fill="#ea2a7b"/>
<circle cx="655.5" cy="248.4" r="1.25" fill="#ea2a7b"/>
<circle cx="653.3" cy="257.5" r="1.25" fill="#ea2a7b"/>
<circle cx="649.4" cy="264.1" r="1.25" fill="#ea2a7b"/>
<circle cx="661.2" cy="269.0" r="1.25" fill="#ea2a7b"/>
<circle cx="653.8" cy="270.5" r="1.25" fill="#ea2a7b"/>
<circle cx="659.8" cy="268.7" r="1.25" fill="#ea2a7b"/>
<circle cx="649.9" cy="271.6" r="1.25" fill="#ea2a7b"/>
<circle cx="655.1" cy="269.9" r="1.25" fill="#ea2a7b"/>
<circle cx="650.9" cy="264.8" r="1.25" fill="#ea2a7b"/>
<circle cx="652.6" cy="254.9" r="1.25" fill="#ea2a7b"/>
<circle cx="658.5" cy="265.6" r="1.25" fill="#ea2a7b"/>
<circle cx="657.1" cy="276.0" r="1.25" fill="#ea2a7b"/>
<circle cx="660.5" cy="263.3" r="1.25" fill="#ea2a7b"/>
<circle cx="659.1" cy="266.7" r="1.25" fill="#ea2a7b"/>
<circle cx="658.4" cy="256.5" r="1.25" fill="#ea2a7b"/>
<circle cx="659.5" cy="261.8" r="1.25" fill="#ea2a7b"/>
<circle cx="646.8" cy="260.6" r="1.25" fill="#ea2a7b"/>
<circle cx="662.1" cy="262.1" r="1.25" fill="#ea2a7b"/>
<circle cx="659.8" cy="259.7" r="1.25" fill="#ea2a7b"/>
<circle cx="659.4" cy="265.0" r="1.25" fill="#ea2a7b"/>
<circle cx="653.9" cy="266.6" r="1.25" fill="#ea2a7b"/>
<circle cx="651.4" cy="273.7" r="1.25" fill="#ea2a7b"/>
<circle cx="649.2" cy="262.7" r="1.25" fill="#ea2a7b"/>
<circle cx="660.5" cy="265.2" r="1.25" fill="#ea2a7b"/>
<circle cx="655.0" cy="255.2" r="1.25" fill="#ea2a7b"/>
<circle cx="654.5" cy="264.5" r="1.25" fill="#ea2a7b"/>
<circle cx="650.5" cy="270.0" r="1.25" fill="#ea2a7b"/>
<circle cx="653.5" cy="268.9" r="1.25" fill="#ea2a7b"/>
<circle cx="657.5" cy="276.1" r="1.25" fill="#ea2a7b"/>
<circle cx="649.6" cy="259.6" r="1.25" fill="#ea2a7b"/>
<circle cx="655.8" cy="250.5" r="1.25" fill="#ea2a7b"/>
<circle cx="656.5" cy="262.7" r="1.25" fill="#ea2a7b"/>
<circle cx="649.5" cy="257.8" r="1.25" fill="#ea2a7b"/>
<circle cx="651.7" cy="263.9" r="1.25" fill="#ea2a7b"/>
<circle cx="655.5" cy="254.9" r="1.25" fill="#ea2a7b"/>
<circle cx="659.0" cy="264.6" r="1.25" fill="#ea2a7b"/>
<circle cx="661.3" cy="260.1" r="1.25" fill="#ea2a7b"/>
<circle cx="656.2" cy="275.2" r="1.25" fill="#ea2a7b"/>
<circle cx="656.0" cy="269.0" r="1.25" fill="#ea2a7b"/>
<circle cx="658.4" cy="261.2" r="1.25" fill="#ea2a7b"/>
<circle cx="657.2" cy="265.3" r="1.25" fill="#ea2a7b"/>
<circle cx="659.0" cy="268.1" r="1.25" fill="#ea2a7b"/>
<circle cx="658.2" cy="272.9" r="1.25" fill="#ea2a7b"/>
<circle cx="653.3" cy="268.4" r="1.25" fill="#ea2a7b"/>
<circle cx="657.4" cy="277.8" r="1.25" fill="#ea2a7b"/>
<circle cx="661.9" cy="263.6" r="1.25" fill="#ea2a7b"/>
<circle cx="647.6" cy="267.3" r="1.25" fill="#ea2a7b"/>
<circle cx="660.0" cy="262.4" r="1.25" fill="#ea2a7b"/>
<circle cx="654.2" cy="275.9" r="1.25" fill="#ea2a7b"/>
<circle cx="659.0" cy="263.1" r="1.25" fill="#ea2a7b"/>
<circle cx="652.3" cy="255.9" r="1.25" fill="#ea2a7b"/>
<circle cx="662.6" cy="261.9" r="1.25" fill="#ea2a7b"/>
<circle cx="651.4" cy="260.2" r="1.25" fill="#ea2a7b"/>
<circle cx="647.9" cy="260.4" r="1.25" fill="#ea2a7b"/>
<circle cx="652.3" cy="255.4" r="1.25" fill="#ea2a7b"/>
<circle cx="648.8" cy="261.5" r="1.25" fill="#ea2a7b"/>
<circle cx="653.2" cy="252.1" r="1.25" fill="#ea2a7b"/>
<circle cx="658.8" cy="258.0" r="1.25" fill="#ea2a7b"/>
<circle cx="657.6" cy="269.3" r="1.25" fill="#ea2a7b"/>
<path d="M654.6,257.6V273.8M649.3000000000001,257.6H659.9M649.3000000000001,273.8H659.9" stroke="#231f20" stroke-width="2.3" fill="none"/>
<polyline points="627.5,238.8 627.5,231.9 654.5,231.9 654.5,241.4" fill="none" stroke="#231f20" stroke-width="1.7"/>
<text x="641.3" y="226.3" font-size="8.6" text-anchor="middle" fill="#414042">NS</text>
</svg>
</body></html>
